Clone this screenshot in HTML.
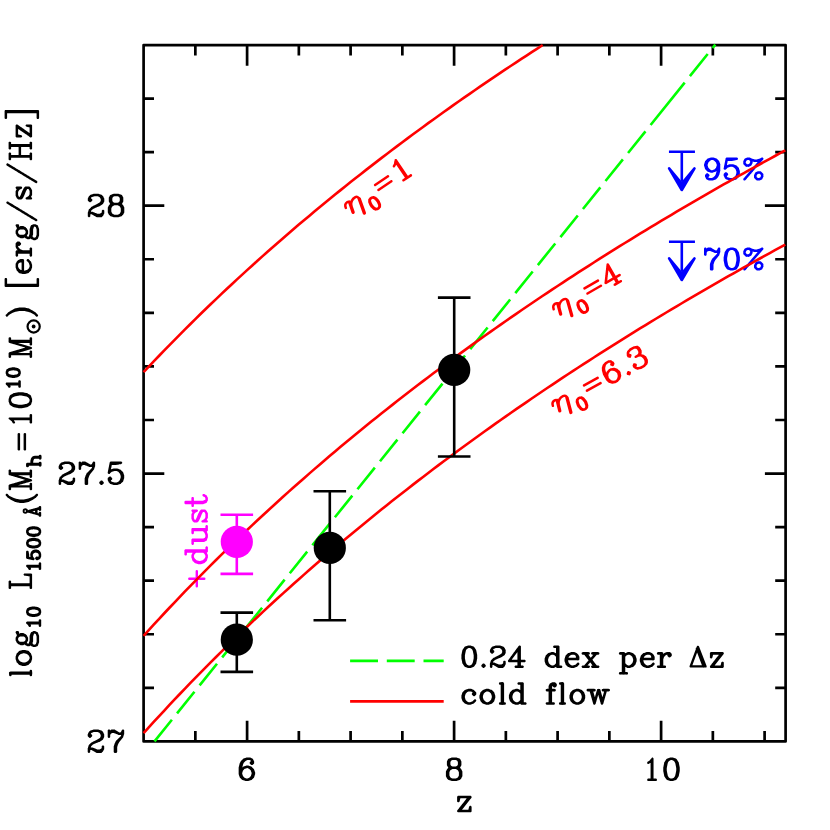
<!DOCTYPE html>
<html><head><meta charset="utf-8"><title>plot</title><style>html,body{margin:0;padding:0;background:#fff;font-family:"Liberation Sans",sans-serif}svg{display:block}</style></head><body>
<svg width="830" height="830" viewBox="0 0 830 830">
<rect width="830" height="830" fill="#fff"/>
<g stroke="#000" stroke-width="2.7" fill="none" stroke-linecap="butt">
<rect x="143.6" y="45.1" width="642" height="696.3" stroke-linejoin="round"/>
<path d="M195.35,741.4v-10.4M195.35,45.1v10.4M247.1,741.4v-20.7M247.1,45.1v20.7M298.85,741.4v-10.4M298.85,45.1v10.4M350.6,741.4v-10.4M350.6,45.1v10.4M402.35,741.4v-10.4M402.35,45.1v10.4M454.1,741.4v-20.7M454.1,45.1v20.7M505.85,741.4v-10.4M505.85,45.1v10.4M557.6,741.4v-10.4M557.6,45.1v10.4M609.35,741.4v-10.4M609.35,45.1v10.4M661.1,741.4v-20.7M661.1,45.1v20.7M712.85,741.4v-10.4M712.85,45.1v10.4M764.6,741.4v-10.4M764.6,45.1v10.4M143.6,687.83h10.4M785.6,687.83h-10.4M143.6,634.26h10.4M785.6,634.26h-10.4M143.6,580.69h10.4M785.6,580.69h-10.4M143.6,527.12h10.4M785.6,527.12h-10.4M143.6,473.55h20.7M785.6,473.55h-20.7M143.6,419.98h10.4M785.6,419.98h-10.4M143.6,366.41h10.4M785.6,366.41h-10.4M143.6,312.84h10.4M785.6,312.84h-10.4M143.6,259.27h10.4M785.6,259.27h-10.4M143.6,205.7h20.7M785.6,205.7h-20.7M143.6,152.13h10.4M785.6,152.13h-10.4M143.6,98.56h10.4M785.6,98.56h-10.4"/>
</g>
<path transform="translate(86.05,216)" fill="#000" fill-rule="evenodd" d="M4.62,-21.25 4,-20.88 3.88,-20.62 3,-19.88 1.75,-17.38 1.75,-15.62 2,-15.12 3.38,-13.88 3.62,-13.75 4.38,-13.75 4.62,-13.88 6,-15.12 6.25,-15.62 6.25,-16.38 6,-16.88 5.62,-17.12 4.88,-18 5.12,-18.38 5.88,-19 6.12,-19 7.75,-19.62 8.12,-19.62 8.25,-19.75 11.62,-19.75 13.38,-18.88 14.12,-18 14.62,-17 14.62,-16.75 14.75,-16.62 14.75,-15.38 14.12,-14 13.88,-13.75 11,-11.88 8,-10.38 7.75,-10.38 5.75,-9.25 5.5,-9.25 5,-8.88 4.88,-8.62 3.38,-7.12 3,-6.88 2.75,-6.38 2,-3.88 1.75,-3.5 1.75,0.38 1.88,0.62 2.62,1.25 3.38,1.25 3.62,1.12 4.25,0.38 4.25,-1.38 4.62,-1.75 5.62,-1.75 6.75,-1 7.12,-0.88 7.38,-0.62 7.75,-0.5 8,-0.25 8.38,-0.12 8.62,0.12 9,0.25 9.25,0.5 9.62,0.62 10.25,1.12 10.5,1.12 10.62,1.25 15.38,1.25 16,0.88 16.12,0.62 17,-0.12 17.88,-2 18.25,-2.5 18.25,-5.38 17.62,-6.12 17.38,-6.25 16.62,-6.25 16.38,-6.12 15.75,-5.38 15.75,-3.62 15.62,-3.38 15,-2.88 13.62,-2.25 11.25,-2.25 9.88,-2.88 9.62,-2.88 9.25,-3.12 9,-3.12 8.62,-3.38 8.38,-3.38 8,-3.62 7.75,-3.62 7.38,-3.88 7.12,-3.88 6.5,-4.25 5,-4.25 4.88,-4.38 4.88,-4.75 5.25,-5.5 7,-7.12 9.12,-8.12 9.38,-8.12 9.75,-8.38 10,-8.38 10.38,-8.62 10.62,-8.62 11,-8.88 11.25,-8.88 12.88,-9.62 13.5,-9.75 16.5,-11.75 17.25,-12.5 17.25,-12.75 18.25,-14.62 18.25,-17.38 18.12,-17.5 18.12,-17.75 17.88,-18 17,-19.88 16.62,-20.12 16,-20.88 15.38,-21.25 12.88,-22 12.5,-22.25 7.5,-22.25 7.12,-22ZM28,-22.38 27.88,-22.25 27.5,-22.25 27.12,-22 26.88,-22 26.75,-21.88 26.5,-21.88 26.38,-21.75 24.38,-21.12 23.75,-20.5 23.75,-20.25 23.12,-19 22.88,-18.75 22.88,-18.5 22.75,-18.38 22.75,-14.62 23.75,-12.75 23.75,-12.5 24.25,-12 23,-10.88 21.75,-8.38 21.75,-3.62 23,-1.12 23.38,-0.88 24,-0.12 24.62,0.25 27.12,1 27.5,1.25 32.5,1.25 32.88,1 35.38,0.25 36,-0.12 36.12,-0.38 36.62,-0.88 36.75,-0.88 37.25,-1.5 37.25,-1.75 38.25,-3.62 38.25,-8.38 37,-10.88 35.75,-12 36.25,-12.5 36.25,-12.75 37.25,-14.62 37.25,-18.38 36.25,-20.25 36.25,-20.5 35.38,-21.25 32.88,-22 32.5,-22.25 28.12,-22.25ZM27,-10.12 28.38,-10.75 31.62,-10.75 33,-10.12 33.88,-9.38 34.75,-7.62 34.75,-4.38 34.12,-3 33.38,-2.12 31.62,-1.25 28.38,-1.25 27,-1.88 26.12,-2.62 25.25,-4.38 25.25,-7.62 25.88,-9 26.25,-9.5ZM26.75,-18.75 27.25,-19.25 28.38,-19.75 31.62,-19.75 32.75,-19.25 33.25,-18.75 33.75,-17.62 33.75,-15.38 33.25,-14.25 32.75,-13.75 31.62,-13.25 28.38,-13.25 27.25,-13.75 26.75,-14.25 26.25,-15.38 26.25,-17.62Z"/>
<path transform="translate(56.9,483.75)" fill="#000" fill-rule="evenodd" d="M22.62,-22.25 22.38,-22.12 21.75,-21.38 21.75,-14.62 21.88,-14.38 22.62,-13.75 23.38,-13.75 24.12,-14.38 24.25,-14.62 24.25,-16.62 24.75,-17.75 25.25,-18.25 26.38,-18.75 27.75,-18.75 29.12,-18.12 29.38,-18.12 29.75,-17.88 30,-17.88 30.38,-17.62 30.62,-17.62 31,-17.38 31.25,-17.38 31.62,-17.12 31.88,-17.12 32.5,-16.75 35.12,-16.75 35.25,-16.62 35.12,-16.5 35,-15.88 34.75,-15.5 30.38,-11.12 30,-10.88 29.12,-9 28.88,-8.75 28,-5.88 27.75,-5.5 27.75,0.38 27.88,0.62 28.62,1.25 29.38,1.25 29.5,1.12 29.62,1.25 30.38,1.25 30.62,1.12 31.25,0.38 31.25,-4.75 31.38,-4.88 31.38,-5.25 31.5,-5.38 32,-7.12 32.25,-7.5 32.25,-7.75 33.38,-9.75 37.25,-14.5 37.38,-15.25 37.5,-15.38 38,-17.12 38.25,-17.5 38.25,-21.38 37.62,-22.12 37.38,-22.25 36.62,-22.25 35.75,-21.5 35.75,-21.25 35.12,-20 34.62,-19.38 34.38,-19.25 33.38,-19.25 32.25,-20 31.88,-20.12 31.62,-20.38 31.25,-20.5 31,-20.75 30.62,-20.88 30.38,-21.12 30,-21.25 29.75,-21.5 29.38,-21.62 28.75,-22.12 28.5,-22.12 28.38,-22.25 25.62,-22.25 25,-21.88 24.38,-21.12 24.12,-21.62 23.62,-22.12 23.38,-22.25ZM4.62,-21.25 4,-20.88 3.88,-20.62 3,-19.88 1.75,-17.38 1.75,-15.62 2,-15.12 3.38,-13.88 3.62,-13.75 4.38,-13.75 4.62,-13.88 6,-15.12 6.25,-15.62 6.25,-16.38 6,-16.88 5.62,-17.12 4.88,-18 5.12,-18.38 5.88,-19 6.12,-19 7.75,-19.62 8.12,-19.62 8.25,-19.75 11.62,-19.75 13.38,-18.88 14.12,-18 14.62,-17 14.62,-16.75 14.75,-16.62 14.75,-15.38 14.12,-14 13.88,-13.75 11,-11.88 8,-10.38 7.75,-10.38 5.75,-9.25 5.5,-9.25 5,-8.88 4.88,-8.62 3.38,-7.12 3,-6.88 2.75,-6.38 2,-3.88 1.75,-3.5 1.75,0.38 1.88,0.62 2.62,1.25 3.38,1.25 3.62,1.12 4.25,0.38 4.25,-1.38 4.62,-1.75 5.62,-1.75 6.75,-1 7.12,-0.88 7.38,-0.62 7.75,-0.5 8,-0.25 8.38,-0.12 8.62,0.12 9,0.25 9.25,0.5 9.62,0.62 10.25,1.12 10.5,1.12 10.62,1.25 15.38,1.25 16,0.88 16.12,0.62 17,-0.12 17.88,-2 18.25,-2.5 18.25,-5.38 17.62,-6.12 17.38,-6.25 16.62,-6.25 16.38,-6.12 15.75,-5.38 15.75,-3.62 15.62,-3.38 15,-2.88 13.62,-2.25 11.25,-2.25 9.88,-2.88 9.62,-2.88 9.25,-3.12 9,-3.12 8.62,-3.38 8.38,-3.38 8,-3.62 7.75,-3.62 7.38,-3.88 7.12,-3.88 6.5,-4.25 5,-4.25 4.88,-4.38 4.88,-4.75 5.25,-5.5 7,-7.12 9.12,-8.12 9.38,-8.12 9.75,-8.38 10,-8.38 10.38,-8.62 10.62,-8.62 11,-8.88 11.25,-8.88 12.88,-9.62 13.5,-9.75 16.5,-11.75 17.25,-12.5 17.25,-12.75 18.25,-14.62 18.25,-17.38 18.12,-17.5 18.12,-17.75 17.88,-18 17,-19.88 16.62,-20.12 16,-20.88 15.38,-21.25 12.88,-22 12.5,-22.25 7.5,-22.25 7.12,-22Z"/>
<path transform="translate(96.5,483.75)" fill="#000" fill-rule="evenodd" d="M4.62,-3.25 4,-2.88 3.88,-2.62 3,-1.88 2.75,-1.38 2.75,-0.62 3,-0.12 3.38,0.12 4,0.88 4.62,1.25 5.38,1.25 6,0.88 6.12,0.62 7,-0.12 7.25,-0.62 7.25,-1.38 7,-1.88 6.62,-2.12 6,-2.88 5.38,-3.25Z"/>
<path transform="translate(105.95,483.75)" fill="#000" fill-rule="evenodd" d="M4.62,-22.25 3.88,-21.62 3.62,-21 3.62,-20.38 3.5,-20.25 3.5,-19.75 3.38,-19.62 3.38,-19.12 3.25,-19 3.25,-18.5 3.12,-18.38 3.12,-17.88 3,-17.75 3,-17.25 2.88,-17.12 2.88,-16.62 2.75,-16.5 2.75,-16 2.62,-15.88 2.62,-15.38 2.5,-15.25 2.5,-14.75 2.38,-14.62 2.38,-14.12 2.25,-14 2.25,-13.5 2.12,-13.38 2.12,-12.88 2,-12.75 2,-12.25 1.88,-12.12 1.88,-11.62 1.75,-11.5 1.75,-10.62 1.88,-10.38 2.62,-9.75 3.38,-9.75 4,-10.12 4.12,-10.38 5.88,-12 6.12,-12 7.75,-12.62 8.12,-12.62 8.25,-12.75 10.62,-12.75 12.38,-11.88 14,-10.12 14,-9.88 14.62,-8.25 14.62,-7.88 14.75,-7.75 14.75,-6.25 14.62,-6.12 14.62,-5.75 14.5,-5.62 14,-3.88 13.75,-3.5 12.38,-2.12 10.62,-1.25 8.25,-1.25 8.12,-1.38 7.75,-1.38 7.62,-1.5 5.88,-2 5.5,-2.25 4.88,-3 5.12,-3.38 6,-4.12 6.25,-4.62 6.25,-5.38 6,-5.88 5.62,-6.12 5,-6.88 4.38,-7.25 3.62,-7.25 3.38,-7.12 2,-5.88 1.75,-5.38 1.75,-3.62 1.88,-3.5 1.88,-3.25 2.12,-3 3,-1.12 3.38,-0.88 4,-0.12 4.62,0.25 7.12,1 7.5,1.25 11.5,1.25 11.88,1 14.38,0.25 15,-0.12 15.12,-0.38 17,-2.12 17.25,-2.62 18,-5.12 18.25,-5.5 18.25,-8.5 18,-8.88 18,-9.12 17,-11.88 16.62,-12.12 15.12,-13.62 15.12,-13.75 14.62,-14.12 12.62,-14.75 12.5,-14.88 12.25,-14.88 12.12,-15 11.88,-15 11.5,-15.25 7.5,-15.25 7.12,-15 6.88,-15 5.25,-14.38 5,-14.5 5,-14.75 5.12,-14.88 5.12,-15.38 5.25,-15.5 5.25,-16 5.38,-16.12 5.38,-16.62 5.5,-16.75 5.75,-18.5 6,-18.75 10.5,-18.75 10.62,-18.88 11.12,-18.88 11.25,-19 11.75,-19 11.88,-19.12 12.38,-19.12 12.5,-19.25 13,-19.25 13.12,-19.38 13.62,-19.38 13.75,-19.5 14.25,-19.5 14.38,-19.62 15,-19.62 15.62,-19.88 16.12,-20.38 16.25,-20.62 16.25,-21.38 16.12,-21.62 15.38,-22.25Z"/>
<path transform="translate(85.95,751.65)" fill="#000" fill-rule="evenodd" d="M22.62,-22.25 22.38,-22.12 21.75,-21.38 21.75,-14.62 21.88,-14.38 22.62,-13.75 23.38,-13.75 24.12,-14.38 24.25,-14.62 24.25,-16.62 24.75,-17.75 25.25,-18.25 26.38,-18.75 27.75,-18.75 29.12,-18.12 29.38,-18.12 29.75,-17.88 30,-17.88 30.38,-17.62 30.62,-17.62 31,-17.38 31.25,-17.38 31.62,-17.12 31.88,-17.12 32.5,-16.75 35.12,-16.75 35.25,-16.62 35.12,-16.5 35,-15.88 34.75,-15.5 30.38,-11.12 30,-10.88 29.12,-9 28.88,-8.75 28,-5.88 27.75,-5.5 27.75,0.38 27.88,0.62 28.62,1.25 29.38,1.25 29.5,1.12 29.62,1.25 30.38,1.25 30.62,1.12 31.25,0.38 31.25,-4.75 31.38,-4.88 31.38,-5.25 31.5,-5.38 32,-7.12 32.25,-7.5 32.25,-7.75 33.38,-9.75 37.25,-14.5 37.38,-15.25 37.5,-15.38 38,-17.12 38.25,-17.5 38.25,-21.38 37.62,-22.12 37.38,-22.25 36.62,-22.25 35.75,-21.5 35.75,-21.25 35.12,-20 34.62,-19.38 34.38,-19.25 33.38,-19.25 32.25,-20 31.88,-20.12 31.62,-20.38 31.25,-20.5 31,-20.75 30.62,-20.88 30.38,-21.12 30,-21.25 29.75,-21.5 29.38,-21.62 28.75,-22.12 28.5,-22.12 28.38,-22.25 25.62,-22.25 25,-21.88 24.38,-21.12 24.12,-21.62 23.62,-22.12 23.38,-22.25ZM4.62,-21.25 4,-20.88 3.88,-20.62 3,-19.88 1.75,-17.38 1.75,-15.62 2,-15.12 3.38,-13.88 3.62,-13.75 4.38,-13.75 4.62,-13.88 6,-15.12 6.25,-15.62 6.25,-16.38 6,-16.88 5.62,-17.12 4.88,-18 5.12,-18.38 5.88,-19 6.12,-19 7.75,-19.62 8.12,-19.62 8.25,-19.75 11.62,-19.75 13.38,-18.88 14.12,-18 14.62,-17 14.62,-16.75 14.75,-16.62 14.75,-15.38 14.12,-14 13.88,-13.75 11,-11.88 8,-10.38 7.75,-10.38 5.75,-9.25 5.5,-9.25 5,-8.88 4.88,-8.62 3.38,-7.12 3,-6.88 2.75,-6.38 2,-3.88 1.75,-3.5 1.75,0.38 1.88,0.62 2.62,1.25 3.38,1.25 3.62,1.12 4.25,0.38 4.25,-1.38 4.62,-1.75 5.62,-1.75 6.75,-1 7.12,-0.88 7.38,-0.62 7.75,-0.5 8,-0.25 8.38,-0.12 8.62,0.12 9,0.25 9.25,0.5 9.62,0.62 10.25,1.12 10.5,1.12 10.62,1.25 15.38,1.25 16,0.88 16.12,0.62 17,-0.12 17.88,-2 18.25,-2.5 18.25,-5.38 17.62,-6.12 17.38,-6.25 16.62,-6.25 16.38,-6.12 15.75,-5.38 15.75,-3.62 15.62,-3.38 15,-2.88 13.62,-2.25 11.25,-2.25 9.88,-2.88 9.62,-2.88 9.25,-3.12 9,-3.12 8.62,-3.38 8.38,-3.38 8,-3.62 7.75,-3.62 7.38,-3.88 7.12,-3.88 6.5,-4.25 5,-4.25 4.88,-4.38 4.88,-4.75 5.25,-5.5 7,-7.12 9.12,-8.12 9.38,-8.12 9.75,-8.38 10,-8.38 10.38,-8.62 10.62,-8.62 11,-8.88 11.25,-8.88 12.88,-9.62 13.5,-9.75 16.5,-11.75 17.25,-12.5 17.25,-12.75 18.25,-14.62 18.25,-17.38 18.12,-17.5 18.12,-17.75 17.88,-18 17,-19.88 16.62,-20.12 16,-20.88 15.38,-21.25 12.88,-22 12.5,-22.25 7.5,-22.25 7.12,-22Z"/>
<path transform="translate(236.9,779.8)" fill="#000" fill-rule="evenodd" d="M9.5,-22.25 9.12,-22 6.62,-21.25 6,-20.88 5.88,-20.62 4,-18.88 3.12,-17 2.88,-16.75 2.88,-16.5 2.62,-16 2.62,-15.62 2.5,-15.5 2.5,-15.12 2.38,-15 2.38,-14.62 2.25,-14.5 2.25,-14.12 2.12,-14 2.12,-13.62 2,-13.5 2,-13.12 1.88,-13 1.88,-12.62 1.75,-12.5 1.75,-5.5 2,-5.12 2,-4.88 3,-2.12 3.38,-1.88 4.88,-0.38 5,-0.12 5.62,0.25 8.12,1 8.5,1.25 11.5,1.25 11.88,1 12.12,1 12.25,0.88 12.5,0.88 12.62,0.75 14.62,0.12 15,-0.12 15.12,-0.38 17,-2.12 17.25,-2.62 18,-5.12 18.25,-5.5 18.25,-7.5 18,-7.88 18,-8.12 17,-10.88 16.62,-11.12 15.12,-12.62 15,-12.88 14.38,-13.25 11.88,-14 11.5,-14.25 9.5,-14.25 9.12,-14 6.62,-13.25 6,-12.88 5.62,-12.38 5.5,-12.5 5.5,-12.88 5.62,-13 5.62,-13.38 5.75,-13.5 6.12,-15.38 6.88,-17 8.62,-18.88 10,-19.62 10.25,-19.62 10.38,-19.75 12.62,-19.75 13.75,-19.25 14,-19 13.88,-18.62 13,-17.88 12.75,-17.38 12.75,-16.62 13,-16.12 13.38,-15.88 14,-15.12 14.62,-14.75 15.38,-14.75 16,-15.12 16.12,-15.38 17,-16.12 17.25,-16.62 17.25,-18.38 17.12,-18.5 17.12,-18.75 16.88,-19 16.25,-20.25 16.25,-20.5 15.5,-21.25 15.25,-21.25 13.38,-22.25ZM10.62,-11.75 12.38,-10.88 13.75,-9.5 14,-9.12 14,-8.88 14.62,-7.25 14.75,-6.25 14.62,-6.12 14.62,-5.75 14.5,-5.62 14,-3.88 12.38,-2.12 10.62,-1.25 9.38,-1.25 7.62,-2.12 6.25,-3.5 6,-3.88 6,-4.12 5.38,-5.75 5.25,-6.75 5.38,-6.88 5.38,-7.25 5.5,-7.38 6,-9.12 7.5,-10.75 7.88,-11 8.12,-11 9.75,-11.62Z"/>
<path transform="translate(444.15,779.8)" fill="#000" fill-rule="evenodd" d="M8,-22.38 7.88,-22.25 7.5,-22.25 7.12,-22 6.88,-22 6.75,-21.88 6.5,-21.88 6.38,-21.75 4.38,-21.12 3.75,-20.5 3.75,-20.25 3.12,-19 2.88,-18.75 2.88,-18.5 2.75,-18.38 2.75,-14.62 3.75,-12.75 3.75,-12.5 4.25,-12 3,-10.88 1.75,-8.38 1.75,-3.62 3,-1.12 3.38,-0.88 4,-0.12 4.62,0.25 7.12,1 7.5,1.25 12.5,1.25 12.88,1 15.38,0.25 16,-0.12 16.12,-0.38 16.62,-0.88 16.75,-0.88 17.25,-1.5 17.25,-1.75 18.25,-3.62 18.25,-8.38 17,-10.88 15.75,-12 16.25,-12.5 16.25,-12.75 17.25,-14.62 17.25,-18.38 16.25,-20.25 16.25,-20.5 15.38,-21.25 12.88,-22 12.5,-22.25 8.12,-22.25ZM7,-10.12 8.38,-10.75 11.62,-10.75 13,-10.12 13.88,-9.38 14.75,-7.62 14.75,-4.38 14.12,-3 13.38,-2.12 11.62,-1.25 8.38,-1.25 7,-1.88 6.12,-2.62 5.25,-4.38 5.25,-7.62 5.88,-9 6.25,-9.5ZM6.75,-18.75 7.25,-19.25 8.38,-19.75 11.62,-19.75 12.75,-19.25 13.25,-18.75 13.75,-17.62 13.75,-15.38 13.25,-14.25 12.75,-13.75 11.62,-13.25 8.38,-13.25 7.25,-13.75 6.75,-14.25 6.25,-15.38 6.25,-17.62Z"/>
<path transform="translate(643.13,779.8) scale(0.85,1)" fill="#000" fill-rule="evenodd" d="M11.38,-22.25 10.62,-22.25 10,-21.88 9.88,-21.62 9.38,-21.12 9.25,-21.12 7.38,-19.12 5.75,-18.25 5.5,-18.25 4.75,-17.38 4.75,-16.62 4.88,-16.38 5.62,-15.75 6.38,-15.75 8.25,-16.75 8.5,-16.75 8.62,-16.88 8.75,-16.75 8.75,-1.38 8.62,-1.25 5.62,-1.25 5.38,-1.12 4.75,-0.38 4.75,0.38 4.88,0.62 5.62,1.25 15.38,1.25 15.62,1.12 16.25,0.38 16.25,-0.38 16.12,-0.62 15.38,-1.25 12.38,-1.25 12.25,-1.38 12.25,-21.38 12.12,-21.62Z"/>
<path transform="translate(661.5,779.8)" fill="#000" fill-rule="evenodd" d="M9,-22.38 8.88,-22.25 8.5,-22.25 8.12,-22 7.88,-22 7.75,-21.88 7.5,-21.88 7.38,-21.75 5.38,-21.12 4.75,-20.5 3.25,-18.12 2.88,-17.75 2.88,-17.5 2.62,-17 2.62,-16.38 2.5,-16.25 2.5,-15.75 2.38,-15.62 2.38,-15.12 2.25,-15 2.25,-14.5 2.12,-14.38 1.88,-12.62 1.75,-12.5 1.75,-8.5 1.88,-8.38 1.88,-7.88 2,-7.75 2,-7.25 2.12,-7.12 2.12,-6.62 2.25,-6.5 2.25,-6 2.38,-5.88 2.38,-5.38 2.5,-5.25 2.5,-4.75 2.62,-4.62 2.62,-4 2.75,-3.88 2.88,-3.25 3.25,-2.88 4.75,-0.5 5.62,0.25 8.12,1 8.5,1.25 11.5,1.25 11.88,1 12.12,1 12.25,0.88 12.5,0.88 12.62,0.75 14.62,0.12 15.25,-0.5 16.75,-2.88 17.12,-3.25 17.12,-3.5 17.38,-4 17.38,-4.62 17.5,-4.75 17.5,-5.25 17.62,-5.38 17.62,-5.88 17.75,-6 17.75,-6.5 17.88,-6.62 18.12,-8.38 18.25,-8.5 18.25,-12.5 18.12,-12.62 18.12,-13.12 18,-13.25 18,-13.75 17.88,-13.88 17.88,-14.38 17.75,-14.5 17.75,-15 17.62,-15.12 17.62,-15.62 17.5,-15.75 17.5,-16.25 17.38,-16.38 17.38,-17 17.25,-17.12 17.12,-17.75 16.75,-18.12 15.25,-20.5 14.38,-21.25 11.88,-22 11.5,-22.25 9.12,-22.25ZM9.38,-19.75 10.62,-19.75 10.75,-19.62 11,-19.62 12,-19.12 12.88,-18.38 13.88,-16.38 13.88,-15.88 14,-15.75 14,-15.25 14.12,-15.12 14.12,-14.62 14.25,-14.5 14.25,-14 14.38,-13.88 14.38,-13.38 14.5,-13.25 14.5,-12.75 14.62,-12.62 14.62,-12 14.75,-11.88 14.75,-9.12 14.62,-9 14.62,-8.38 14.5,-8.25 14.5,-7.75 14.38,-7.62 14.38,-7.12 14.25,-7 14.25,-6.5 14.12,-6.38 14.12,-5.88 14,-5.75 14,-5.25 13.88,-5.12 13.75,-4.25 13.12,-3 12.38,-2.12 10.62,-1.25 9.38,-1.25 9.25,-1.38 9,-1.38 8,-1.88 7.12,-2.62 6.12,-4.62 6.12,-5.12 6,-5.25 6,-5.75 5.88,-5.88 5.88,-6.38 5.75,-6.5 5.75,-7 5.62,-7.12 5.62,-7.62 5.5,-7.75 5.5,-8.25 5.38,-8.38 5.38,-9 5.25,-9.12 5.25,-11.88 5.38,-12 5.38,-12.62 5.5,-12.75 5.5,-13.25 5.62,-13.38 5.62,-13.88 5.75,-14 5.75,-14.5 5.88,-14.62 5.88,-15.12 6,-15.25 6,-15.75 6.12,-15.88 6.25,-16.75 6.88,-18 7.62,-18.88Z"/>
<path transform="translate(455.35,811.1)" fill="#000" fill-rule="evenodd" d="M2.38,-15.12 1.75,-14.38 1.75,-9.62 1.88,-9.38 2.62,-8.75 3.38,-8.75 4.12,-9.38 4.38,-10 4.38,-10.38 4.5,-10.5 4.88,-12.38 5.12,-12.75 11.12,-12.75 11.25,-12.5 10.75,-12 10.38,-11.38 9.88,-10.88 7.62,-7.88 6.62,-6.75 6.25,-6.12 5.25,-5 4.88,-4.38 3.88,-3.25 3.5,-2.62 2,-0.88 1.75,-0.38 1.75,0.38 1.88,0.62 2.62,1.25 15.38,1.25 15.62,1.12 16.25,0.38 16.25,-4.38 16.12,-4.62 15.38,-5.25 14.62,-5.25 13.88,-4.62 13.62,-4 13.62,-3.62 13.5,-3.5 13.12,-1.62 12.88,-1.25 6.88,-1.25 6.75,-1.5 7.25,-2 7.62,-2.62 8.12,-3.12 10.38,-6.12 11.38,-7.25 11.75,-7.88 12.75,-9 13.12,-9.62 14.12,-10.75 14.5,-11.38 16,-13.12 16.25,-13.62 16.25,-14.38 16.12,-14.62 15.38,-15.25 2.62,-15.25Z"/>
<path transform="translate(30.85,667.6) rotate(-90) scale(0.97,1)" fill="#000" fill-rule="evenodd" d="M9,-15.38 8.88,-15.25 8.5,-15.25 8.12,-15 7.88,-15 7.75,-14.88 7.5,-14.88 7.38,-14.75 5.38,-14.12 5,-13.88 4.88,-13.62 3,-11.88 2.75,-11.38 2,-8.88 1.75,-8.5 1.75,-5.5 2,-5.12 2,-4.88 3,-2.12 3.38,-1.88 4.88,-0.38 5,-0.12 5.62,0.25 8.12,1 8.5,1.25 11.5,1.25 11.88,1 12.12,1 12.25,0.88 12.5,0.88 12.62,0.75 14.62,0.12 15,-0.12 15.12,-0.38 17,-2.12 17.25,-2.62 18,-5.12 18.25,-5.5 18.25,-8.5 18,-8.88 18,-9.12 17,-11.88 16.62,-12.12 15.12,-13.62 15,-13.88 14.38,-14.25 11.88,-15 11.5,-15.25 9.12,-15.25ZM9.38,-12.75 10.62,-12.75 12.38,-11.88 14,-10.12 14,-9.88 14.62,-8.25 14.62,-7.88 14.75,-7.75 14.75,-6.25 14.62,-6.12 14.62,-5.75 14.5,-5.62 14,-3.88 12.38,-2.12 10.62,-1.25 9.38,-1.25 7.62,-2.12 6,-3.88 6,-4.12 5.38,-5.75 5.38,-6.12 5.25,-6.25 5.25,-7.75 5.38,-7.88 5.38,-8.25 5.5,-8.38 6,-10.12 7.62,-11.88Z"/>
<path transform="translate(30.85,647.83) rotate(-90) scale(0.97,1)" fill="#000" fill-rule="evenodd" d="M7.5,-15.25 7,-14.88 5.75,-14.25 5.5,-14.25 5,-13.88 4.88,-13.62 4,-12.88 3.12,-11 2.88,-10.75 2.88,-10.5 2.75,-10.38 2.75,-7.62 3.38,-6.5 3.38,-6.25 2.75,-5.5 2.75,-5.25 1.75,-3.38 1.75,-1.5 2.5,-0.25 1.75,0.5 1.75,0.75 1.12,2 0.88,2.25 0.88,2.5 0.75,2.62 0.75,4.38 1.75,6.25 1.75,6.5 2.38,7.12 4.38,7.75 4.5,7.88 4.75,7.88 4.88,8 5.12,8 5.5,8.25 12.5,8.25 12.88,8 13.12,8 13.25,7.88 13.5,7.88 13.62,7.75 15.62,7.12 16.25,6.5 16.25,6.25 16.88,5 17.12,4.75 17.12,4.5 17.25,4.38 17.25,2.5 16.88,2 16.25,0.75 16.25,0.5 15.38,-0.25 12.88,-1 12.5,-1.25 7.25,-1.25 7.12,-1.38 6.75,-1.38 6.62,-1.5 4.88,-2 4.5,-2.25 4.25,-2.62 5,-4.12 5.5,-3.75 5.75,-3.75 7.62,-2.75 10.38,-2.75 12.25,-3.75 12.5,-3.75 13,-4.12 13.12,-4.38 13.62,-4.88 13.75,-4.88 14.25,-5.5 14.25,-5.75 15.25,-7.62 15.25,-10.38 14.62,-11.62 14.75,-11.75 16.38,-11.75 17.12,-12.38 17.25,-12.62 17.25,-14.38 16.62,-15.12 16.38,-15.25 15.62,-15.25 13.75,-14.25 13.5,-14.25 13.12,-13.88 12.88,-13.88 12.5,-14.25 12.25,-14.25 10.38,-15.25ZM3.25,3.38 3.75,2.25 4,2 4.62,1.75 5.38,1.75 5.5,1.88 6.12,2 6.5,2.25 11.75,2.25 11.88,2.38 12.25,2.38 12.38,2.5 14.12,3 14.5,3.25 14.75,3.62 14.25,4.75 14,5 12.38,5.5 12.25,5.62 11.88,5.62 11.75,5.75 6.25,5.75 6.12,5.62 5.75,5.62 5.62,5.5 4,5 3.75,4.75 3.38,4ZM8.38,-12.75 9.62,-12.75 10.75,-12.25 11.25,-11.75 11.75,-10.62 11.75,-7.38 11.62,-7.25 11.62,-7 11.25,-6.25 10.75,-5.75 9.62,-5.25 8.38,-5.25 7.25,-5.75 6.75,-6.25 6.25,-7.38 6.25,-10.62 6.38,-10.75 6.38,-11 6.75,-11.75 7.25,-12.25Z"/>
<path transform="translate(39.95,629.2) rotate(-90) scale(0.97,1)" fill="#000" fill-rule="evenodd" d="M17,-13.88 16.25,-13.5 15.12,-13.25 14.62,-12.75 14.5,-12.75 14.12,-12 13.25,-10.88 13.12,-10.12 13,-10 13,-9.5 12.88,-9.38 12.88,-8.88 12.75,-8.75 12.75,-8.25 12.62,-8.12 12.62,-7.62 12.5,-7.5 12.5,-5 12.75,-4.38 12.75,-3.88 12.88,-3.75 12.88,-3.25 13,-3.12 13,-2.62 13.12,-2.5 13.25,-1.75 14.75,0.38 15.12,0.62 16.5,1 16.88,1.25 19.12,1.25 19.5,1 20.88,0.62 21.25,0.38 22.75,-1.75 22.88,-2.5 23,-2.62 23,-3.12 23.12,-3.25 23.12,-3.75 23.25,-3.88 23.25,-4.38 23.5,-5 23.5,-7.5 23.38,-7.62 23.38,-8.12 23.25,-8.25 23.25,-8.75 23.12,-8.88 23.12,-9.38 23,-9.5 23,-10 22.88,-10.12 22.75,-10.88 22.38,-11.25 21.5,-12.75 21.38,-12.75 20.88,-13.25 20.12,-13.38 19,-13.88ZM17.88,-11.38 18.5,-11.25 19,-11 19.38,-10.62 19.88,-9.5 20,-8.5 20.12,-8.38 20.12,-7.88 20.25,-7.75 20.25,-7 20.38,-6.88 20.38,-5.75 20.25,-5.62 20.25,-4.88 20.12,-4.75 19.88,-3 19.38,-2 19,-1.62 18.25,-1.25 17.75,-1.25 17,-1.62 16.62,-2 16.12,-3 16.12,-3.5 16,-3.62 16,-4.12 15.88,-4.25 15.88,-4.75 15.75,-4.88 15.75,-5.62 15.62,-5.75 15.75,-7.75 15.88,-7.88 15.88,-8.38 16,-8.5 16,-9 16.12,-9.12 16.25,-9.88 16.62,-10.62 17,-11ZM6.25,-13.88 5.62,-13.5 4.25,-12 3,-11.38 2.38,-10.62 2.38,-9.75 2.88,-9.12 3.5,-9 3.62,-8.88 3.75,-9 4.12,-9 4.5,-9.25 4.75,-9.12 4.75,-1.38 4.62,-1.25 3.25,-1.25 3,-1.12 2.38,-0.38 2.38,0.38 2.5,0.62 3.25,1.25 9.38,1.25 9.62,1.12 10.25,0.38 10.25,-0.38 10.12,-0.62 9.38,-1.25 8,-1.25 7.88,-1.38 7.88,-12.88 7.75,-13 7.75,-13.25 7.38,-13.62 6.88,-13.88Z"/>
<path transform="translate(30.85,589.67) rotate(-90) scale(0.89,1)" fill="#000" fill-rule="evenodd" d="M1.38,-22.12 0.75,-21.38 0.75,-20.62 0.88,-20.38 1.62,-19.75 3.62,-19.75 3.75,-19.62 3.75,-1.38 3.62,-1.25 1.62,-1.25 1.38,-1.12 0.75,-0.38 0.75,0.38 0.88,0.62 1.62,1.25 17.38,1.25 17.62,1.12 18.25,0.38 18.25,-6.38 18.12,-6.62 17.38,-7.25 16.62,-7.25 16.38,-7.12 15.75,-6.38 15.75,-6.12 15.62,-6 15.62,-5.25 15.5,-5.12 15.5,-4.5 15.38,-4.38 15.38,-3.75 15.25,-3.62 15.25,-3 15.12,-2.88 15.12,-2.25 15,-2.12 15,-1.5 14.75,-1.25 7.38,-1.25 7.25,-1.38 7.25,-19.62 7.38,-19.75 9.38,-19.75 9.62,-19.88 10.25,-20.62 10.25,-21.38 10.12,-21.62 9.38,-22.25 1.62,-22.25Z"/>
<path transform="translate(39.95,572.3) rotate(-90) scale(0.97,1)" fill="#000" fill-rule="evenodd" d="M41,-13.88 40.25,-13.5 39.12,-13.25 38.62,-12.75 38.5,-12.75 38.12,-12 37.25,-10.88 37.12,-10.12 37,-10 37,-9.5 36.88,-9.38 36.88,-8.88 36.75,-8.75 36.75,-8.25 36.62,-8.12 36.62,-7.62 36.5,-7.5 36.5,-5 36.75,-4.38 36.75,-3.88 36.88,-3.75 36.88,-3.25 37,-3.12 37,-2.62 37.12,-2.5 37.25,-1.75 38.75,0.38 39.12,0.62 40.5,1 40.88,1.25 43.12,1.25 43.5,1 44.88,0.62 45.25,0.38 46.75,-1.75 46.88,-2.5 47,-2.62 47,-3.12 47.12,-3.25 47.12,-3.75 47.25,-3.88 47.25,-4.38 47.5,-5 47.5,-7.5 47.38,-7.62 47.38,-8.12 47.25,-8.25 47.25,-8.75 47.12,-8.88 47.12,-9.38 47,-9.5 47,-10 46.88,-10.12 46.75,-10.88 46.38,-11.25 45.5,-12.75 45.38,-12.75 44.88,-13.25 44.12,-13.38 43,-13.88ZM41.88,-11.38 42.5,-11.25 43,-11 43.38,-10.62 43.88,-9.5 44,-8.5 44.12,-8.38 44.12,-7.88 44.25,-7.75 44.25,-7 44.38,-6.88 44.38,-5.75 44.25,-5.62 44.25,-4.88 44.12,-4.75 43.88,-3 43.38,-2 43,-1.62 42.25,-1.25 41.75,-1.25 41,-1.62 40.62,-2 40.12,-3 40.12,-3.5 40,-3.62 40,-4.12 39.88,-4.25 39.88,-4.75 39.75,-4.88 39.75,-5.62 39.62,-5.75 39.75,-7.75 39.88,-7.88 39.88,-8.38 40,-8.5 40,-9 40.12,-9.12 40.25,-9.88 40.62,-10.62 41,-11ZM29,-13.88 28.25,-13.5 27.12,-13.25 26.62,-12.75 26.5,-12.75 26.12,-12 25.25,-10.88 25.12,-10.12 25,-10 25,-9.5 24.88,-9.38 24.88,-8.88 24.75,-8.75 24.75,-8.25 24.62,-8.12 24.62,-7.62 24.5,-7.5 24.5,-5 24.75,-4.38 24.75,-3.88 24.88,-3.75 24.88,-3.25 25,-3.12 25,-2.62 25.12,-2.5 25.25,-1.75 26.75,0.38 27.12,0.62 28.5,1 28.88,1.25 31.12,1.25 31.5,1 32.88,0.62 33.25,0.38 34.75,-1.75 34.88,-2.5 35,-2.62 35,-3.12 35.12,-3.25 35.12,-3.75 35.25,-3.88 35.25,-4.38 35.5,-5 35.5,-7.5 35.38,-7.62 35.38,-8.12 35.25,-8.25 35.25,-8.75 35.12,-8.88 35.12,-9.38 35,-9.5 35,-10 34.88,-10.12 34.75,-10.88 34.38,-11.25 33.5,-12.75 33.38,-12.75 32.88,-13.25 32.12,-13.38 31,-13.88ZM29.88,-11.38 30.5,-11.25 31,-11 31.38,-10.62 31.88,-9.5 32,-8.5 32.12,-8.38 32.12,-7.88 32.25,-7.75 32.25,-7 32.38,-6.88 32.38,-5.75 32.25,-5.62 32.25,-4.88 32.12,-4.75 31.88,-3 31.38,-2 31,-1.62 30.25,-1.25 29.75,-1.25 29,-1.62 28.62,-2 28.12,-3 28.12,-3.5 28,-3.62 28,-4.12 27.88,-4.25 27.88,-4.75 27.75,-4.88 27.75,-5.62 27.62,-5.75 27.75,-7.75 27.88,-7.88 27.88,-8.38 28,-8.5 28,-9 28.12,-9.12 28.25,-9.88 28.62,-10.62 29,-11ZM14.62,-13.88 13.88,-13.25 13.62,-12.62 13.62,-12 13.5,-11.88 13.5,-11.38 13.38,-11.25 13.38,-10.75 13.25,-10.62 13.25,-10.12 13.12,-10 13.12,-9.5 13,-9.38 12.75,-7.62 12.5,-7 12.5,-6.25 12.62,-6 13.12,-5.5 13.88,-5.25 14.5,-5.5 15.75,-6.75 16,-6.75 16.88,-7.12 18.38,-7.12 18.88,-6.88 20,-5.75 20,-5.5 20.25,-5 20.38,-4 20.25,-3.88 20.25,-3.5 19.88,-2.5 19,-1.62 18.25,-1.25 17,-1.25 15.75,-1.75 16.25,-2.62 16.25,-3.38 16,-3.88 15,-4.75 14.75,-4.88 14.12,-4.88 13.62,-4.62 12.75,-3.75 12.5,-3.25 12.5,-2.25 12.62,-2.12 12.62,-1.75 12.88,-1.5 13.12,-1 13.12,-0.75 13.38,-0.38 14.5,0.62 14.75,0.62 16.38,1.25 19.12,1.25 19.5,1 20.88,0.62 21.25,0.38 22.88,-1.38 22.88,-1.75 23.5,-3.38 23.5,-5.12 23.12,-5.88 22.88,-7 22.75,-7.25 21.12,-8.88 20.62,-9.12 20.38,-9.12 19.12,-9.62 18.75,-9.62 18.62,-9.75 18.25,-9.75 18.12,-9.62 17.12,-9.62 16.88,-9.75 16.75,-9.62 16.25,-9.62 15.88,-9.38 15.75,-9.5 15.75,-10.12 16,-10.75 18.5,-10.75 18.62,-10.88 19.12,-10.88 19.25,-11 19.75,-11 19.88,-11.12 20.38,-11.12 20.5,-11.25 21.12,-11.25 21.25,-11.38 21.5,-11.38 21.88,-11.62 22.25,-12.12 22.25,-13 22.12,-13.25 21.38,-13.88ZM6.25,-13.88 5.62,-13.5 4.25,-12 3,-11.38 2.38,-10.62 2.38,-9.75 2.88,-9.12 3.5,-9 3.62,-8.88 3.75,-9 4.12,-9 4.5,-9.25 4.75,-9.12 4.75,-1.38 4.62,-1.25 3.25,-1.25 3,-1.12 2.38,-0.38 2.38,0.38 2.5,0.62 3.25,1.25 9.38,1.25 9.62,1.12 10.25,0.38 10.25,-0.38 10.12,-0.62 9.38,-1.25 8,-1.25 7.88,-1.38 7.88,-12.88 7.75,-13 7.75,-13.25 7.38,-13.62 6.88,-13.88Z"/>
<path transform="translate(39.95,516.28) rotate(-90) scale(0.82,1)" fill="#000" fill-rule="evenodd" d="M5.62,-13.88 5.38,-13.75 4.75,-13 4.75,-12.75 4.62,-12.62 4.62,-12.38 4.5,-12.25 4.5,-12 4.38,-11.88 4.38,-11.62 4.25,-11.5 4.25,-11.25 4.12,-11.12 4.12,-10.88 4,-10.75 4,-10.5 3.88,-10.38 3.88,-10.12 3.75,-10 3.75,-9.75 3.62,-9.62 3.62,-9.38 3.5,-9.25 3.5,-9 3.38,-8.88 3.38,-8.62 3.25,-8.5 3.25,-8.25 3.12,-8.12 3.12,-7.88 3,-7.75 3,-7.5 2.88,-7.38 2.88,-7.12 2.75,-7 2.75,-6.75 2.62,-6.62 2.62,-6.38 2.5,-6.25 2.5,-6 2.38,-5.88 1,-1.5 0.75,-1.25 0.25,-1.25 0,-1.12 -0.5,-0.62 -0.62,-0.38 -0.62,0.38 -0.5,0.62 0.25,1.25 4.62,1.25 5.25,0.75 5.5,0.25 5.5,-0.25 5.25,-0.75 4.62,-1.25 3.75,-1.25 3.62,-1.38 3.75,-2 4.12,-2.38 7.38,-2.38 7.62,-2 7.75,-1.38 7,-1 6.5,-0.25 6.5,0.25 7,1 7.38,1.25 11.75,1.25 12.5,0.62 12.62,0.38 12.62,-0.38 12,-1.12 11.75,-1.25 11.25,-1.25 11,-1.5 11,-1.75 10.88,-1.88 10.88,-2.12 10.75,-2.25 10.75,-2.5 10.62,-2.62 10.62,-2.88 10.5,-3 10.5,-3.25 10.38,-3.38 10.38,-3.62 10.25,-3.75 10.25,-4 10.12,-4.12 10.12,-4.38 10,-4.5 10,-4.75 9.88,-4.88 9.88,-5.12 9.75,-5.25 9.75,-5.5 9.62,-5.62 9.62,-5.88 9.5,-6 9.5,-6.25 9.38,-6.38 9.38,-6.62 9.25,-6.75 9.25,-7 9.12,-7.12 9.12,-7.38 9,-7.5 9,-7.75 8.88,-7.88 8.88,-8.12 8.75,-8.25 8.75,-8.5 8.62,-8.62 8.62,-8.88 8.5,-9 8.5,-9.25 8.38,-9.38 8.38,-9.62 8.25,-9.75 8.25,-10 8.12,-10.12 8.12,-10.38 8,-10.5 8,-10.75 7.88,-10.88 7.88,-11.12 7.75,-11.25 7.12,-13.25 6.38,-13.88ZM5.62,-7.38 5.88,-7.25 5.88,-7 6.62,-5 6.5,-4.88 5,-4.88 4.88,-5 4.88,-5.38Z"/>
<path transform="translate(30.31,505.57) rotate(-90) scale(0.97,0.94)" fill="#000" fill-rule="evenodd" d="M10.62,-26.25 10,-25.88 9.88,-25.62 7.88,-23.75 7.75,-23.38 6.25,-21.12 5.88,-20.75 5.75,-20.25 4.12,-17 3.88,-16.75 3.88,-16.5 3.62,-16 3.62,-15.38 3.5,-15.25 3.5,-14.75 3.38,-14.62 3.38,-14.12 3.25,-14 3.25,-13.5 3.12,-13.38 2.88,-11.62 2.75,-11.5 2.75,-6.5 2.88,-6.38 2.88,-5.88 3,-5.75 3,-5.25 3.12,-5.12 3.12,-4.62 3.25,-4.5 3.25,-4 3.38,-3.88 3.38,-3.38 3.5,-3.25 3.5,-2.75 3.62,-2.62 3.62,-2 3.75,-1.88 3.88,-1.25 4.12,-1 5.75,2.25 5.88,2.75 6.25,3.12 7.75,5.38 7.88,5.75 8.38,6.12 9.88,7.62 10,7.88 10.62,8.25 11.38,8.25 12.12,7.62 12.25,7.38 12.25,6.62 12,6.12 11.62,5.88 9.88,4 8.25,0.75 8.25,0.5 8,0.12 8,-0.12 7.25,-2.12 7.12,-3.12 7,-3.25 7,-3.75 6.88,-3.88 6.88,-4.38 6.75,-4.5 6.75,-5 6.62,-5.12 6.62,-5.62 6.5,-5.75 6.5,-6.25 6.38,-6.38 6.38,-7 6.25,-7.12 6.25,-10.88 6.38,-11 6.38,-11.62 6.5,-11.75 6.5,-12.25 6.62,-12.38 6.62,-12.88 6.75,-13 6.75,-13.5 6.88,-13.62 7.12,-15.38 7.25,-15.5 7.25,-15.88 7.38,-16 8,-18.12 9.88,-22 10.25,-22.5 12,-24.12 12.25,-24.62 12.25,-25.38 12.12,-25.62 11.38,-26.25Z"/>
<path transform="translate(30.85,490.86) rotate(-90) scale(0.88,1)" fill="#000" fill-rule="evenodd" d="M23.62,-22.12 23.38,-22.25 19.12,-22.25 19,-22.38 18.88,-22.25 18.5,-22.25 17.88,-21.75 17.62,-21.12 17.62,-20.75 17.5,-20.62 17.5,-20.38 17.38,-20.25 17.38,-20 17.25,-19.88 17.25,-19.62 17.12,-19.5 17.12,-19.25 17,-19.12 17,-18.88 16.88,-18.75 16.88,-18.5 16.75,-18.38 16.75,-18.12 16.62,-18 16.62,-17.75 16.5,-17.62 16.5,-17.38 16.38,-17.25 16.38,-17 16.25,-16.88 16.25,-16.62 16.12,-16.5 16.12,-16.25 16,-16.12 16,-15.88 15.88,-15.75 15.88,-15.5 15.75,-15.38 15.75,-15.12 15.62,-15 15.62,-14.75 15.5,-14.62 15.5,-14.38 15.38,-14.25 15.38,-14 15.25,-13.88 15.25,-13.62 15.12,-13.5 15.12,-13.25 15,-13.12 15,-12.88 14.88,-12.75 14.88,-12.5 14.75,-12.38 14.75,-12.12 14.62,-12 14.62,-11.75 14.5,-11.62 14.5,-11.38 14.38,-11.25 14.38,-11 14.25,-10.88 14.25,-10.62 14.12,-10.5 14.12,-10.25 14,-10.12 14,-9.88 13.88,-9.75 13.88,-9.5 13.75,-9.38 13.75,-9.12 12.75,-6.38 12.75,-6.12 12.5,-5.75 12.25,-6.12 12.25,-6.38 12.12,-6.5 12.12,-6.75 12,-6.88 12,-7.12 11.88,-7.25 11.88,-7.5 11.75,-7.62 11.75,-7.88 11.62,-8 11.62,-8.25 11.5,-8.38 11.5,-8.62 11.38,-8.75 11.38,-9 11.25,-9.12 11.25,-9.38 11.12,-9.5 11.12,-9.75 11,-9.88 11,-10.12 10.88,-10.25 10.88,-10.5 10.75,-10.62 10.75,-10.88 10.62,-11 10.62,-11.25 10.5,-11.38 10.5,-11.62 10.38,-11.75 10.38,-12 10.25,-12.12 10.25,-12.38 10.12,-12.5 10.12,-12.75 10,-12.88 10,-13.12 9.88,-13.25 9.88,-13.5 9.75,-13.62 9.75,-13.88 9.62,-14 9.62,-14.25 9.5,-14.38 9.5,-14.62 9.38,-14.75 9.38,-15 9.25,-15.12 9.25,-15.38 9.12,-15.5 9.12,-15.75 9,-15.88 9,-16.12 8.88,-16.25 8.88,-16.5 8.75,-16.62 8.75,-16.88 8.62,-17 8.62,-17.25 8.5,-17.38 8.5,-17.62 8.38,-17.75 8.38,-18 7.38,-20.75 7.25,-21.5 6.38,-22.25 1.62,-22.25 0.88,-21.62 0.75,-21.38 0.75,-20.62 1.38,-19.88 1.62,-19.75 3.62,-19.75 3.75,-19.62 3.75,-1.38 3.62,-1.25 1.62,-1.25 0.88,-0.62 0.75,-0.38 0.75,0.38 1.38,1.12 1.62,1.25 8.38,1.25 8.62,1.12 9.25,0.38 9.25,-0.38 8.62,-1.12 8.38,-1.25 6.38,-1.25 6.25,-1.38 6.25,-12.5 6.38,-12.62 6.62,-12.25 6.62,-12 6.75,-11.88 6.75,-11.62 6.88,-11.5 6.88,-11.25 7,-11.12 7,-10.88 7.12,-10.75 7.12,-10.5 7.25,-10.38 7.25,-10.12 7.38,-10 7.38,-9.75 7.5,-9.62 7.5,-9.38 7.62,-9.25 7.62,-9 7.75,-8.88 7.75,-8.62 7.88,-8.5 7.88,-8.25 8,-8.12 8,-7.88 8.12,-7.75 8.12,-7.5 8.25,-7.38 8.25,-7.12 8.38,-7 8.38,-6.75 8.5,-6.62 8.5,-6.38 8.62,-6.25 8.62,-6 8.75,-5.88 8.75,-5.62 8.88,-5.5 8.88,-5.25 9,-5.12 9,-4.88 9.12,-4.75 9.12,-4.5 9.25,-4.38 9.25,-4.12 9.38,-4 9.38,-3.75 9.5,-3.62 9.5,-3.38 9.62,-3.25 9.62,-3 10.62,-0.25 10.75,0.5 11.38,1.12 11.62,1.25 12.38,1.25 13.25,0.5 13.38,-0.25 13.5,-0.38 13.5,-0.62 13.62,-0.75 13.62,-1 13.75,-1.12 13.75,-1.38 13.88,-1.5 13.88,-1.75 14,-1.88 14,-2.12 14.12,-2.25 14.12,-2.5 14.25,-2.62 14.25,-2.88 14.38,-3 14.38,-3.25 14.5,-3.38 14.5,-3.62 14.62,-3.75 14.62,-4 14.75,-4.12 14.75,-4.38 14.88,-4.5 14.88,-4.75 15,-4.88 15,-5.12 15.12,-5.25 15.12,-5.5 15.25,-5.62 15.25,-5.88 15.38,-6 15.38,-6.25 15.5,-6.38 15.5,-6.62 15.62,-6.75 15.62,-7 15.75,-7.12 15.75,-7.38 15.88,-7.5 15.88,-7.75 16,-7.88 17.38,-12.25 17.62,-12.62 17.75,-12.5 17.75,-1.38 17.62,-1.25 15.62,-1.25 15.38,-1.12 14.75,-0.38 14.75,0.38 14.88,0.62 15.62,1.25 23.38,1.25 24.12,0.62 24.25,0.38 24.25,-0.38 23.62,-1.12 23.38,-1.25 21.38,-1.25 21.25,-1.38 21.25,-19.62 21.38,-19.75 23.38,-19.75 24.12,-20.38 24.25,-20.62 24.25,-21.38Z"/>
<path transform="translate(30.85,452.85) rotate(-90) scale(0.85,1)" fill="#000" fill-rule="evenodd" d="M2.75,-6.38 2.75,-5.62 2.88,-5.38 3.62,-4.75 22.38,-4.75 22.62,-4.88 23.25,-5.62 23.25,-6.38 23.12,-6.62 22.38,-7.25 3.62,-7.25 3.38,-7.12ZM2.75,-12.38 2.75,-11.62 2.88,-11.38 3.62,-10.75 22.38,-10.75 22.62,-10.88 23.25,-11.62 23.25,-12.38 23.12,-12.62 22.38,-13.25 3.62,-13.25 3.38,-13.12Z"/>
<path transform="translate(30.85,427.42) rotate(-90) scale(0.82,1)" fill="#000" fill-rule="evenodd" d="M11.38,-22.25 10.62,-22.25 10,-21.88 9.88,-21.62 9.38,-21.12 9.25,-21.12 7.38,-19.12 5.75,-18.25 5.5,-18.25 4.75,-17.38 4.75,-16.62 4.88,-16.38 5.62,-15.75 6.38,-15.75 8.25,-16.75 8.5,-16.75 8.62,-16.88 8.75,-16.75 8.75,-1.38 8.62,-1.25 5.62,-1.25 5.38,-1.12 4.75,-0.38 4.75,0.38 4.88,0.62 5.62,1.25 15.38,1.25 15.62,1.12 16.25,0.38 16.25,-0.38 16.12,-0.62 15.38,-1.25 12.38,-1.25 12.25,-1.38 12.25,-21.38 12.12,-21.62Z"/>
<path transform="translate(30.85,409.9) rotate(-90) scale(0.97,1)" fill="#000" fill-rule="evenodd" d="M9,-22.38 8.88,-22.25 8.5,-22.25 8.12,-22 7.88,-22 7.75,-21.88 7.5,-21.88 7.38,-21.75 5.38,-21.12 4.75,-20.5 3.25,-18.12 2.88,-17.75 2.88,-17.5 2.62,-17 2.62,-16.38 2.5,-16.25 2.5,-15.75 2.38,-15.62 2.38,-15.12 2.25,-15 2.25,-14.5 2.12,-14.38 1.88,-12.62 1.75,-12.5 1.75,-8.5 1.88,-8.38 1.88,-7.88 2,-7.75 2,-7.25 2.12,-7.12 2.12,-6.62 2.25,-6.5 2.25,-6 2.38,-5.88 2.38,-5.38 2.5,-5.25 2.5,-4.75 2.62,-4.62 2.62,-4 2.75,-3.88 2.88,-3.25 3.25,-2.88 4.75,-0.5 5.62,0.25 8.12,1 8.5,1.25 11.5,1.25 11.88,1 12.12,1 12.25,0.88 12.5,0.88 12.62,0.75 14.62,0.12 15.25,-0.5 16.75,-2.88 17.12,-3.25 17.12,-3.5 17.38,-4 17.38,-4.62 17.5,-4.75 17.5,-5.25 17.62,-5.38 17.62,-5.88 17.75,-6 17.75,-6.5 17.88,-6.62 18.12,-8.38 18.25,-8.5 18.25,-12.5 18.12,-12.62 18.12,-13.12 18,-13.25 18,-13.75 17.88,-13.88 17.88,-14.38 17.75,-14.5 17.75,-15 17.62,-15.12 17.62,-15.62 17.5,-15.75 17.5,-16.25 17.38,-16.38 17.38,-17 17.25,-17.12 17.12,-17.75 16.75,-18.12 15.25,-20.5 14.38,-21.25 11.88,-22 11.5,-22.25 9.12,-22.25ZM9.38,-19.75 10.62,-19.75 10.75,-19.62 11,-19.62 12,-19.12 12.88,-18.38 13.88,-16.38 13.88,-15.88 14,-15.75 14,-15.25 14.12,-15.12 14.12,-14.62 14.25,-14.5 14.25,-14 14.38,-13.88 14.38,-13.38 14.5,-13.25 14.5,-12.75 14.62,-12.62 14.62,-12 14.75,-11.88 14.75,-9.12 14.62,-9 14.62,-8.38 14.5,-8.25 14.5,-7.75 14.38,-7.62 14.38,-7.12 14.25,-7 14.25,-6.5 14.12,-6.38 14.12,-5.88 14,-5.75 14,-5.25 13.88,-5.12 13.75,-4.25 13.12,-3 12.38,-2.12 10.62,-1.25 9.38,-1.25 9.25,-1.38 9,-1.38 8,-1.88 7.12,-2.62 6.12,-4.62 6.12,-5.12 6,-5.25 6,-5.75 5.88,-5.88 5.88,-6.38 5.75,-6.5 5.75,-7 5.62,-7.12 5.62,-7.62 5.5,-7.75 5.5,-8.25 5.38,-8.38 5.38,-9 5.25,-9.12 5.25,-11.88 5.38,-12 5.38,-12.62 5.5,-12.75 5.5,-13.25 5.62,-13.38 5.62,-13.88 5.75,-14 5.75,-14.5 5.88,-14.62 5.88,-15.12 6,-15.25 6,-15.75 6.12,-15.88 6.25,-16.75 6.88,-18 7.62,-18.88Z"/>
<path transform="translate(19.55,390.1) rotate(-90) scale(0.97,1)" fill="#000" fill-rule="evenodd" d="M17,-13.88 16.25,-13.5 15.12,-13.25 14.62,-12.75 14.5,-12.75 14.12,-12 13.25,-10.88 13.12,-10.12 13,-10 13,-9.5 12.88,-9.38 12.88,-8.88 12.75,-8.75 12.75,-8.25 12.62,-8.12 12.62,-7.62 12.5,-7.5 12.5,-5 12.75,-4.38 12.75,-3.88 12.88,-3.75 12.88,-3.25 13,-3.12 13,-2.62 13.12,-2.5 13.25,-1.75 14.75,0.38 15.12,0.62 16.5,1 16.88,1.25 19.12,1.25 19.5,1 20.88,0.62 21.25,0.38 22.75,-1.75 22.88,-2.5 23,-2.62 23,-3.12 23.12,-3.25 23.12,-3.75 23.25,-3.88 23.25,-4.38 23.5,-5 23.5,-7.5 23.38,-7.62 23.38,-8.12 23.25,-8.25 23.25,-8.75 23.12,-8.88 23.12,-9.38 23,-9.5 23,-10 22.88,-10.12 22.75,-10.88 22.38,-11.25 21.5,-12.75 21.38,-12.75 20.88,-13.25 20.12,-13.38 19,-13.88ZM17.88,-11.38 18.5,-11.25 19,-11 19.38,-10.62 19.88,-9.5 20,-8.5 20.12,-8.38 20.12,-7.88 20.25,-7.75 20.25,-7 20.38,-6.88 20.38,-5.75 20.25,-5.62 20.25,-4.88 20.12,-4.75 19.88,-3 19.38,-2 19,-1.62 18.25,-1.25 17.75,-1.25 17,-1.62 16.62,-2 16.12,-3 16.12,-3.5 16,-3.62 16,-4.12 15.88,-4.25 15.88,-4.75 15.75,-4.88 15.75,-5.62 15.62,-5.75 15.75,-7.75 15.88,-7.88 15.88,-8.38 16,-8.5 16,-9 16.12,-9.12 16.25,-9.88 16.62,-10.62 17,-11ZM6.25,-13.88 5.62,-13.5 4.25,-12 3,-11.38 2.38,-10.62 2.38,-9.75 2.88,-9.12 3.5,-9 3.62,-8.88 3.75,-9 4.12,-9 4.5,-9.25 4.75,-9.12 4.75,-1.38 4.62,-1.25 3.25,-1.25 3,-1.12 2.38,-0.38 2.38,0.38 2.5,0.62 3.25,1.25 9.38,1.25 9.62,1.12 10.25,0.38 10.25,-0.38 10.12,-0.62 9.38,-1.25 8,-1.25 7.88,-1.38 7.88,-12.88 7.75,-13 7.75,-13.25 7.38,-13.62 6.88,-13.88Z"/>
<path transform="translate(30.85,358.56) rotate(-90) scale(0.88,1)" fill="#000" fill-rule="evenodd" d="M23.62,-22.12 23.38,-22.25 19.12,-22.25 19,-22.38 18.88,-22.25 18.5,-22.25 17.88,-21.75 17.62,-21.12 17.62,-20.75 17.5,-20.62 17.5,-20.38 17.38,-20.25 17.38,-20 17.25,-19.88 17.25,-19.62 17.12,-19.5 17.12,-19.25 17,-19.12 17,-18.88 16.88,-18.75 16.88,-18.5 16.75,-18.38 16.75,-18.12 16.62,-18 16.62,-17.75 16.5,-17.62 16.5,-17.38 16.38,-17.25 16.38,-17 16.25,-16.88 16.25,-16.62 16.12,-16.5 16.12,-16.25 16,-16.12 16,-15.88 15.88,-15.75 15.88,-15.5 15.75,-15.38 15.75,-15.12 15.62,-15 15.62,-14.75 15.5,-14.62 15.5,-14.38 15.38,-14.25 15.38,-14 15.25,-13.88 15.25,-13.62 15.12,-13.5 15.12,-13.25 15,-13.12 15,-12.88 14.88,-12.75 14.88,-12.5 14.75,-12.38 14.75,-12.12 14.62,-12 14.62,-11.75 14.5,-11.62 14.5,-11.38 14.38,-11.25 14.38,-11 14.25,-10.88 14.25,-10.62 14.12,-10.5 14.12,-10.25 14,-10.12 14,-9.88 13.88,-9.75 13.88,-9.5 13.75,-9.38 13.75,-9.12 12.75,-6.38 12.75,-6.12 12.5,-5.75 12.25,-6.12 12.25,-6.38 12.12,-6.5 12.12,-6.75 12,-6.88 12,-7.12 11.88,-7.25 11.88,-7.5 11.75,-7.62 11.75,-7.88 11.62,-8 11.62,-8.25 11.5,-8.38 11.5,-8.62 11.38,-8.75 11.38,-9 11.25,-9.12 11.25,-9.38 11.12,-9.5 11.12,-9.75 11,-9.88 11,-10.12 10.88,-10.25 10.88,-10.5 10.75,-10.62 10.75,-10.88 10.62,-11 10.62,-11.25 10.5,-11.38 10.5,-11.62 10.38,-11.75 10.38,-12 10.25,-12.12 10.25,-12.38 10.12,-12.5 10.12,-12.75 10,-12.88 10,-13.12 9.88,-13.25 9.88,-13.5 9.75,-13.62 9.75,-13.88 9.62,-14 9.62,-14.25 9.5,-14.38 9.5,-14.62 9.38,-14.75 9.38,-15 9.25,-15.12 9.25,-15.38 9.12,-15.5 9.12,-15.75 9,-15.88 9,-16.12 8.88,-16.25 8.88,-16.5 8.75,-16.62 8.75,-16.88 8.62,-17 8.62,-17.25 8.5,-17.38 8.5,-17.62 8.38,-17.75 8.38,-18 7.38,-20.75 7.25,-21.5 6.38,-22.25 1.62,-22.25 0.88,-21.62 0.75,-21.38 0.75,-20.62 1.38,-19.88 1.62,-19.75 3.62,-19.75 3.75,-19.62 3.75,-1.38 3.62,-1.25 1.62,-1.25 0.88,-0.62 0.75,-0.38 0.75,0.38 1.38,1.12 1.62,1.25 8.38,1.25 8.62,1.12 9.25,0.38 9.25,-0.38 8.62,-1.12 8.38,-1.25 6.38,-1.25 6.25,-1.38 6.25,-12.5 6.38,-12.62 6.62,-12.25 6.62,-12 6.75,-11.88 6.75,-11.62 6.88,-11.5 6.88,-11.25 7,-11.12 7,-10.88 7.12,-10.75 7.12,-10.5 7.25,-10.38 7.25,-10.12 7.38,-10 7.38,-9.75 7.5,-9.62 7.5,-9.38 7.62,-9.25 7.62,-9 7.75,-8.88 7.75,-8.62 7.88,-8.5 7.88,-8.25 8,-8.12 8,-7.88 8.12,-7.75 8.12,-7.5 8.25,-7.38 8.25,-7.12 8.38,-7 8.38,-6.75 8.5,-6.62 8.5,-6.38 8.62,-6.25 8.62,-6 8.75,-5.88 8.75,-5.62 8.88,-5.5 8.88,-5.25 9,-5.12 9,-4.88 9.12,-4.75 9.12,-4.5 9.25,-4.38 9.25,-4.12 9.38,-4 9.38,-3.75 9.5,-3.62 9.5,-3.38 9.62,-3.25 9.62,-3 10.62,-0.25 10.75,0.5 11.38,1.12 11.62,1.25 12.38,1.25 13.25,0.5 13.38,-0.25 13.5,-0.38 13.5,-0.62 13.62,-0.75 13.62,-1 13.75,-1.12 13.75,-1.38 13.88,-1.5 13.88,-1.75 14,-1.88 14,-2.12 14.12,-2.25 14.12,-2.5 14.25,-2.62 14.25,-2.88 14.38,-3 14.38,-3.25 14.5,-3.38 14.5,-3.62 14.62,-3.75 14.62,-4 14.75,-4.12 14.75,-4.38 14.88,-4.5 14.88,-4.75 15,-4.88 15,-5.12 15.12,-5.25 15.12,-5.5 15.25,-5.62 15.25,-5.88 15.38,-6 15.38,-6.25 15.5,-6.38 15.5,-6.62 15.62,-6.75 15.62,-7 15.75,-7.12 15.75,-7.38 15.88,-7.5 15.88,-7.75 16,-7.88 17.38,-12.25 17.62,-12.62 17.75,-12.5 17.75,-1.38 17.62,-1.25 15.62,-1.25 15.38,-1.12 14.75,-0.38 14.75,0.38 14.88,0.62 15.62,1.25 23.38,1.25 24.12,0.62 24.25,0.38 24.25,-0.38 23.62,-1.12 23.38,-1.25 21.38,-1.25 21.25,-1.38 21.25,-19.62 21.38,-19.75 23.38,-19.75 24.12,-20.38 24.25,-20.62 24.25,-21.38Z"/>
<path transform="translate(30.31,318.4) rotate(-90) scale(0.97,0.94)" fill="#000" fill-rule="evenodd" d="M2.62,-26.25 1.88,-25.62 1.75,-25.38 1.75,-24.62 2,-24.12 2.38,-23.88 4.12,-22 5.75,-18.75 5.75,-18.5 6,-18.12 6,-17.88 6.75,-15.88 6.88,-14.88 7,-14.75 7,-14.25 7.12,-14.12 7.12,-13.62 7.25,-13.5 7.25,-13 7.38,-12.88 7.38,-12.38 7.5,-12.25 7.5,-11.75 7.62,-11.62 7.62,-11 7.75,-10.88 7.75,-7.12 7.62,-7 7.62,-6.38 7.5,-6.25 7.5,-5.75 7.38,-5.62 7.38,-5.12 7.25,-5 7.25,-4.5 7.12,-4.38 6.88,-2.62 6.75,-2.5 6.75,-2.12 6.62,-2 6,0.12 4.12,4 3.75,4.5 2,6.12 1.75,6.62 1.75,7.38 1.88,7.62 2.62,8.25 3.38,8.25 4,7.88 4.12,7.62 6.12,5.75 6.25,5.38 7.75,3.12 8.12,2.75 8.25,2.25 9.88,-1 10.12,-1.25 10.12,-1.5 10.38,-2 10.38,-2.62 10.5,-2.75 10.5,-3.25 10.62,-3.38 10.62,-3.88 10.75,-4 10.75,-4.5 10.88,-4.62 11.12,-6.38 11.25,-6.5 11.25,-11.5 11.12,-11.62 11.12,-12.12 11,-12.25 11,-12.75 10.88,-12.88 10.88,-13.38 10.75,-13.5 10.75,-14 10.62,-14.12 10.62,-14.62 10.5,-14.75 10.5,-15.25 10.38,-15.38 10.38,-16 10.25,-16.12 10.12,-16.75 9.88,-17 8.25,-20.25 8.12,-20.75 7.75,-21.12 6.25,-23.38 6.12,-23.75 5.62,-24.12 4.12,-25.62 4,-25.88 3.38,-26.25Z"/>
<path transform="translate(30.85,289.77) rotate(-90) scale(0.97,1)" fill="#000" fill-rule="evenodd" d="M3.62,-26.25 3.38,-26.12 2.75,-25.38 2.75,7.38 2.88,7.62 3.62,8.25 11.38,8.25 11.62,8.12 12.25,7.38 12.25,6.62 11.62,5.88 11.38,5.75 6.38,5.75 6.25,5.62 6.25,-23.62 6.38,-23.75 11.38,-23.75 12.12,-24.38 12.25,-24.62 12.25,-25.38 12.12,-25.62 11.38,-26.25Z"/>
<path transform="translate(30.85,275.8) rotate(-90) scale(0.97,1)" fill="#000" fill-rule="evenodd" d="M43.5,-15.25 43,-14.88 41.75,-14.25 41.5,-14.25 41,-13.88 40.88,-13.62 40,-12.88 39.12,-11 38.88,-10.75 38.88,-10.5 38.75,-10.38 38.75,-7.62 39.38,-6.5 39.38,-6.25 38.75,-5.5 38.75,-5.25 37.75,-3.38 37.75,-1.5 38.5,-0.25 37.75,0.5 37.75,0.75 37.12,2 36.88,2.25 36.88,2.5 36.75,2.62 36.75,4.38 37.75,6.25 37.75,6.5 38.38,7.12 40.38,7.75 40.5,7.88 40.75,7.88 40.88,8 41.12,8 41.5,8.25 48.5,8.25 48.88,8 49.12,8 49.25,7.88 49.5,7.88 49.62,7.75 51.62,7.12 52.25,6.5 52.25,6.25 52.88,5 53.12,4.75 53.12,4.5 53.25,4.38 53.25,2.5 52.88,2 52.25,0.75 52.25,0.5 51.38,-0.25 48.88,-1 48.5,-1.25 43.25,-1.25 43.12,-1.38 42.75,-1.38 42.62,-1.5 40.88,-2 40.5,-2.25 40.25,-2.62 41,-4.12 41.5,-3.75 41.75,-3.75 43.62,-2.75 46.38,-2.75 48.25,-3.75 48.5,-3.75 49,-4.12 49.12,-4.38 49.62,-4.88 49.75,-4.88 50.25,-5.5 50.25,-5.75 51.25,-7.62 51.25,-10.38 50.62,-11.62 50.75,-11.75 52.38,-11.75 53.12,-12.38 53.25,-12.62 53.25,-14.38 52.62,-15.12 52.38,-15.25 51.62,-15.25 49.75,-14.25 49.5,-14.25 49.12,-13.88 48.88,-13.88 48.5,-14.25 48.25,-14.25 46.38,-15.25ZM39.25,3.38 39.75,2.25 40,2 40.62,1.75 41.38,1.75 41.5,1.88 42.12,2 42.5,2.25 47.75,2.25 47.88,2.38 48.25,2.38 48.38,2.5 50.12,3 50.5,3.25 50.75,3.62 50.25,4.75 50,5 48.38,5.5 48.25,5.62 47.88,5.62 47.75,5.75 42.25,5.75 42.12,5.62 41.75,5.62 41.62,5.5 40,5 39.75,4.75 39.38,4ZM44.38,-12.75 45.62,-12.75 46.75,-12.25 47.25,-11.75 47.75,-10.62 47.75,-7.38 47.62,-7.25 47.62,-7 47.25,-6.25 46.75,-5.75 45.62,-5.25 44.38,-5.25 43.25,-5.75 42.75,-6.25 42.25,-7.38 42.25,-10.62 42.38,-10.75 42.38,-11 42.75,-11.75 43.25,-12.25ZM20.62,-15.25 20.38,-15.12 19.75,-14.38 19.75,-13.62 19.88,-13.38 20.62,-12.75 22.62,-12.75 22.75,-12.62 22.75,-1.38 22.62,-1.25 20.62,-1.25 20.38,-1.12 19.75,-0.38 19.75,0.38 19.88,0.62 20.62,1.25 28.38,1.25 28.62,1.12 29.25,0.38 29.25,-0.38 29.12,-0.62 28.38,-1.25 26.38,-1.25 26.25,-1.38 26.25,-7.75 26.38,-7.88 26.38,-8.25 26.5,-8.38 27,-10.12 28.62,-11.88 30,-12.62 30.75,-12.75 30.88,-12.62 30.75,-12.38 30.75,-11.62 31,-11.12 32.38,-9.88 32.62,-9.75 33.38,-9.75 34,-10.12 34.12,-10.38 35,-11.12 35.25,-11.62 35.25,-13.38 35,-13.88 34.62,-14.12 34,-14.88 33.38,-15.25 29.62,-15.25 27.75,-14.25 27.5,-14.25 27,-13.88 26.5,-13.25 26.25,-13.38 26.25,-14.38 26.12,-14.62 25.38,-15.25ZM8.5,-15.25 8.12,-15 7.88,-15 7.75,-14.88 7.5,-14.88 7.38,-14.75 5.38,-14.12 5,-13.88 4.88,-13.62 3,-11.88 2.75,-11.38 2,-8.88 1.75,-8.5 1.75,-5.5 2,-5.12 2,-4.88 3,-2.12 3.38,-1.88 4.88,-0.38 5,-0.12 5.62,0.25 8.12,1 8.5,1.25 11.5,1.25 11.88,1 14.38,0.25 15,-0.12 15.12,-0.38 17,-2.12 17.25,-2.62 17.25,-3.38 17.12,-3.62 16.38,-4.25 15.62,-4.25 15,-3.88 14.88,-3.62 13.12,-2 12.88,-2 11.25,-1.38 10.88,-1.38 10.75,-1.25 9.38,-1.25 7.62,-2.12 6.25,-3.5 6,-3.88 6,-4.12 5.38,-5.75 5.25,-6.62 5.38,-6.75 16.38,-6.75 16.62,-6.88 17.25,-7.62 17.25,-10.38 16,-12.88 14.5,-14.25 14.25,-14.25 12.38,-15.25ZM5.88,-9.75 6.25,-10.5 7.62,-11.88 9.38,-12.75 11.62,-12.75 11.75,-12.62 12,-12.62 12.75,-12.25 13.25,-11.75 13.75,-10.62 13.75,-9.38 13.62,-9.25 6,-9.25 5.88,-9.38Z"/>
<path transform="translate(29.95,222.03) rotate(-90) scale(0.97,0.9)" fill="#000" fill-rule="evenodd" d="M20.62,-26.12 20.38,-26.25 19.62,-26.25 18.75,-25.5 17.75,-23.5 17,-22.38 16.62,-21.5 15.88,-20.38 15.5,-19.5 14.75,-18.38 14.38,-17.5 13.62,-16.38 13.25,-15.5 12.5,-14.38 12.12,-13.5 11.38,-12.38 11,-11.5 10.25,-10.38 9.88,-9.5 9.12,-8.38 8.75,-7.5 8,-6.38 7.62,-5.5 6.88,-4.38 6.5,-3.5 5.75,-2.38 5.38,-1.5 4.62,-0.38 4.25,0.5 3.5,1.62 2,4.5 1.75,4.75 1.5,5.38 0.88,6.25 0.88,6.5 0.75,6.62 0.75,7.38 1.38,8.12 1.62,8.25 2.38,8.25 3.25,7.5 4.25,5.5 5,4.38 5.38,3.5 6.12,2.38 6.5,1.5 7.25,0.38 7.62,-0.5 8.38,-1.62 8.75,-2.5 9.5,-3.62 9.88,-4.5 10.62,-5.62 11,-6.5 11.75,-7.62 12.12,-8.5 12.88,-9.62 13.25,-10.5 14,-11.62 14.38,-12.5 15.12,-13.62 15.5,-14.5 16.25,-15.62 16.62,-16.5 17.38,-17.62 17.75,-18.5 18.5,-19.62 20,-22.5 20.25,-22.75 20.5,-23.38 21.12,-24.25 21.12,-24.5 21.25,-24.62 21.25,-25.38Z"/>
<path transform="translate(30.85,201.3) rotate(-90) scale(0.97,1)" fill="#000" fill-rule="evenodd" d="M5.62,-15.25 3.75,-14.25 3.5,-14.25 2,-12.88 1.75,-12.38 1.75,-9.62 2,-9.12 3.5,-7.75 3.75,-7.75 5.25,-7 5.5,-6.75 6.12,-6.62 6.5,-6.38 6.75,-6.38 7.12,-6.12 7.38,-6.12 7.75,-5.88 8,-5.88 8.38,-5.62 8.62,-5.62 9,-5.38 9.88,-5.12 12,-4.12 12.62,-3.62 12.75,-3.38 12.75,-2.62 12.62,-2.38 12,-1.88 10.62,-1.25 7.38,-1.25 6,-1.88 5.25,-2.5 4.88,-3 4.25,-4.25 4.25,-4.5 3.62,-5.12 3.38,-5.25 2.62,-5.25 2.38,-5.12 1.75,-4.38 1.75,0.38 1.88,0.62 2.62,1.25 3.38,1.25 3.62,1.12 4.25,0.5 4.25,0.25 4.38,0.12 6.62,1.25 11.38,1.25 13.25,0.25 13.5,0.25 15,-1.12 15.25,-1.62 15.25,-5.38 15,-5.88 13.5,-7.25 13.25,-7.25 11.75,-8 11.5,-8.25 10.88,-8.38 10.5,-8.62 10.25,-8.62 9.88,-8.88 9.62,-8.88 9.25,-9.12 9,-9.12 8.62,-9.38 8.38,-9.38 8,-9.62 7.12,-9.88 6.5,-10.25 6.25,-10.25 4.62,-11.12 4.38,-11.38 4.38,-11.62 5,-12.12 6.38,-12.75 9.62,-12.75 11,-12.12 11.75,-11.5 12.12,-11 12.75,-9.75 12.75,-9.5 13.38,-8.88 13.62,-8.75 14.38,-8.75 14.62,-8.88 15.25,-9.62 15.25,-14.38 15.12,-14.62 14.38,-15.25 13.62,-15.25 13.38,-15.12 12.75,-14.5 12.75,-14.25 12.62,-14.12 10.38,-15.25Z"/>
<path transform="translate(29.95,183.93) rotate(-90) scale(0.97,0.9)" fill="#000" fill-rule="evenodd" d="M20.62,-26.12 20.38,-26.25 19.62,-26.25 18.75,-25.5 17.75,-23.5 17,-22.38 16.62,-21.5 15.88,-20.38 15.5,-19.5 14.75,-18.38 14.38,-17.5 13.62,-16.38 13.25,-15.5 12.5,-14.38 12.12,-13.5 11.38,-12.38 11,-11.5 10.25,-10.38 9.88,-9.5 9.12,-8.38 8.75,-7.5 8,-6.38 7.62,-5.5 6.88,-4.38 6.5,-3.5 5.75,-2.38 5.38,-1.5 4.62,-0.38 4.25,0.5 3.5,1.62 2,4.5 1.75,4.75 1.5,5.38 0.88,6.25 0.88,6.5 0.75,6.62 0.75,7.38 1.38,8.12 1.62,8.25 2.38,8.25 3.25,7.5 4.25,5.5 5,4.38 5.38,3.5 6.12,2.38 6.5,1.5 7.25,0.38 7.62,-0.5 8.38,-1.62 8.75,-2.5 9.5,-3.62 9.88,-4.5 10.62,-5.62 11,-6.5 11.75,-7.62 12.12,-8.5 12.88,-9.62 13.25,-10.5 14,-11.62 14.38,-12.5 15.12,-13.62 15.5,-14.5 16.25,-15.62 16.62,-16.5 17.38,-17.62 17.75,-18.5 18.5,-19.62 20,-22.5 20.25,-22.75 20.5,-23.38 21.12,-24.25 21.12,-24.5 21.25,-24.62 21.25,-25.38Z"/>
<path transform="translate(30.85,160.93) rotate(-90) scale(0.83,1)" fill="#000" fill-rule="evenodd" d="M1.38,-22.12 0.75,-21.38 0.75,-20.62 0.88,-20.38 1.62,-19.75 3.62,-19.75 3.75,-19.62 3.75,-1.38 3.62,-1.25 1.62,-1.25 1.38,-1.12 0.75,-0.38 0.75,0.38 0.88,0.62 1.62,1.25 9.38,1.25 9.62,1.12 10.25,0.38 10.25,-0.38 10.12,-0.62 9.38,-1.25 7.38,-1.25 7.25,-1.38 7.25,-9.62 7.38,-9.75 16.62,-9.75 16.75,-9.62 16.75,-1.38 16.62,-1.25 14.62,-1.25 14.38,-1.12 13.75,-0.38 13.75,0.38 13.88,0.62 14.62,1.25 22.38,1.25 22.62,1.12 23.25,0.38 23.25,-0.38 23.12,-0.62 22.38,-1.25 20.38,-1.25 20.25,-1.38 20.25,-19.62 20.38,-19.75 22.38,-19.75 22.62,-19.88 23.25,-20.62 23.25,-21.38 23.12,-21.62 22.38,-22.25 14.62,-22.25 14.38,-22.12 13.75,-21.38 13.75,-20.62 13.88,-20.38 14.62,-19.75 16.62,-19.75 16.75,-19.62 16.75,-12.38 16.62,-12.25 7.38,-12.25 7.25,-12.38 7.25,-19.62 7.38,-19.75 9.38,-19.75 9.62,-19.88 10.25,-20.62 10.25,-21.38 10.12,-21.62 9.38,-22.25 1.62,-22.25Z"/>
<path transform="translate(30.85,138.96) rotate(-90) scale(0.89,1)" fill="#000" fill-rule="evenodd" d="M2.38,-15.12 1.75,-14.38 1.75,-9.62 1.88,-9.38 2.62,-8.75 3.38,-8.75 4.12,-9.38 4.38,-10 4.38,-10.38 4.5,-10.5 4.88,-12.38 5.12,-12.75 11.12,-12.75 11.25,-12.5 10.75,-12 10.38,-11.38 9.88,-10.88 7.62,-7.88 6.62,-6.75 6.25,-6.12 5.25,-5 4.88,-4.38 3.88,-3.25 3.5,-2.62 2,-0.88 1.75,-0.38 1.75,0.38 1.88,0.62 2.62,1.25 15.38,1.25 15.62,1.12 16.25,0.38 16.25,-4.38 16.12,-4.62 15.38,-5.25 14.62,-5.25 13.88,-4.62 13.62,-4 13.62,-3.62 13.5,-3.5 13.12,-1.62 12.88,-1.25 6.88,-1.25 6.75,-1.5 7.25,-2 7.62,-2.62 8.12,-3.12 10.38,-6.12 11.38,-7.25 11.75,-7.88 12.75,-9 13.12,-9.62 14.12,-10.75 14.5,-11.38 16,-13.12 16.25,-13.62 16.25,-14.38 16.12,-14.62 15.38,-15.25 2.62,-15.25Z"/>
<path transform="translate(30.85,120.8) rotate(-90) scale(0.97,1)" fill="#000" fill-rule="evenodd" d="M2.62,-26.25 2.38,-26.12 1.75,-25.38 1.75,-24.62 2.38,-23.88 2.62,-23.75 7.62,-23.75 7.75,-23.62 7.75,5.62 7.62,5.75 2.62,5.75 1.88,6.38 1.75,6.62 1.75,7.38 1.88,7.62 2.62,8.25 10.38,8.25 10.62,8.12 11.25,7.38 11.25,-25.38 11.12,-25.62 10.38,-26.25Z"/>
<path d="M10.6,673.1H30.6" fill="none" stroke="#000" stroke-width="3.4" stroke-linecap="round"/>
<path d="M30.85,671.1V675.05M10.35,673.6V675" fill="none" stroke="#000" stroke-width="2.5" stroke-linecap="round"/>
<circle cx="25.3" cy="511" r="1.75" fill="none" stroke="#000" stroke-width="1.8"/>
<circle cx="33.65" cy="326.5" r="6.1" fill="none" stroke="#000" stroke-width="2.2"/>
<circle cx="33.65" cy="326.5" r="1.9" fill="#000"/>
<path d="M27.5,465.9V464.2H40 M31.8,464.2C31.5,460.5 32.2,457.3 35,457.3H40 M40.1,465.3V463.1 M40.1,458.3V456.3" fill="none" stroke="#000" stroke-width="2.9" stroke-linecap="round" stroke-linejoin="round"/>
<path d="M350.1,660.9H443.7" stroke="#0f0" stroke-width="2.6" stroke-dasharray="27.9 8.8" fill="none"/>
<path d="M350.1,701.4H443.7" stroke="#f00" stroke-width="2.6" fill="none"/>
<path transform="translate(459.8,666.7)" fill="#000" fill-rule="evenodd" d="M23.75,-3.25 23.62,-3.12 23.25,-3.12 22.88,-2.88 21.75,-1.75 21.5,-1.12 21.5,-0.75 21.88,0 22.12,0.12 22.75,0.88 23.38,1.25 24.12,1.25 24.75,0.88 24.88,0.62 25.62,0 26,-0.75 26,-1.12 25.75,-1.75 24.62,-2.88 24.25,-3.12 23.88,-3.12ZM60.12,-21.25 59.5,-21.25 58.62,-20.5 57.62,-19 56.5,-17.62 56.25,-17.12 55.12,-15.75 54.88,-15.25 53.75,-13.88 53.5,-13.38 52.38,-12 52.12,-11.5 51,-10.12 50.75,-9.62 49.62,-8.25 49.38,-7.75 48.25,-6.38 48.25,-6.12 48.12,-6 48.12,-5.38 48.38,-4.88 48.88,-4.5 49.25,-4.5 49.38,-4.38 57.5,-4.38 57.62,-4.25 57.62,-1.38 57.5,-1.25 55.62,-1.25 55,-0.75 54.75,-0.25 54.75,0.25 55,0.75 55.62,1.25 63.12,1.25 63.75,0.75 64,0.25 64,-0.25 63.75,-0.75 63.12,-1.25 61.25,-1.25 61.12,-1.38 61.12,-4.25 61.25,-4.38 64.62,-4.38 64.75,-4.5 65.12,-4.5 65.62,-4.88 65.88,-5.38 65.88,-6 65.62,-6.5 65.12,-6.88 64.88,-6.88 64.75,-7 61.25,-7 61.12,-7.12 61.12,-20.38 60.62,-21ZM57.5,-14.5 57.62,-14.38 57.62,-7.12 57.5,-7 52.12,-7 52,-7.12ZM32.88,-20.25 32.25,-19.88 32.12,-19.62 31.38,-19 30.12,-16.62 30.12,-16.25 30,-16.12 30.12,-15.88 30,-15.25 30.12,-15.12 30.25,-14.5 31.88,-13 32.75,-13 34.38,-14.5 34.38,-14.75 34.5,-14.88 34.5,-15.62 34.38,-15.88 33.25,-17 33.5,-17.5 34.12,-18 34.38,-18 36,-18.62 39.75,-18.62 41,-18 41.75,-17.25 42.38,-16 42.38,-14.38 41.88,-13.38 41.5,-13 39,-11.38 36,-9.88 35.75,-9.88 35.25,-9.5 34,-8.88 33.75,-8.88 31.25,-6.5 31,-6 30.25,-3.5 30.12,-3.38 30.12,-3 30,-2.88 30.12,-2.62 30.12,-2.12 30,-2 30,-1.75 30.12,-1.62 30.12,-0.25 30,-0.12 30.25,0.62 31,1.25 31.75,1.25 32,1.12 32.62,0.38 32.62,-1.38 32.88,-1.62 33.75,-1.62 34.88,-1 35.12,-0.75 35.5,-0.62 35.75,-0.38 36.12,-0.25 36.38,0 36.75,0.12 37,0.38 37.38,0.5 37.62,0.75 38,0.88 38.25,1.12 38.5,1.12 38.62,1.25 43.12,1.25 43.75,0.88 43.88,0.62 44.62,0 46,-2.75 46,-3.12 45.88,-3.25 45.88,-4.5 46,-4.75 45.75,-5.38 45.25,-5.88 45,-6 44.25,-6 44,-5.88 43.38,-5.12 43.38,-3.38 42.88,-2.88 41.62,-2.25 39,-2.25 38.62,-2.5 38.38,-2.5 38,-2.75 37.75,-2.75 37.38,-3 37.12,-3 36.75,-3.25 36.5,-3.25 36.12,-3.5 35.25,-3.75 34.62,-4.12 33.25,-4.12 33.12,-4.25 33.5,-5.12 35.25,-6.75 36.25,-7.25 36.5,-7.25 37.12,-7.62 37.38,-7.62 37.75,-7.88 38,-7.88 38.38,-8.12 38.62,-8.12 39,-8.38 39.25,-8.38 39.62,-8.62 39.88,-8.62 40.25,-8.88 41.12,-9.12 44.25,-11.12 44.88,-11.75 45.88,-13.75 45.88,-14.12 46,-14.25 45.88,-14.5 45.88,-15.88 46,-16 45.88,-16.62 44.88,-18.62 43.75,-19.88 43.12,-20.25 41,-20.88 40.25,-21.25 35.75,-21.25 35.38,-21ZM8.12,-21.25 7.75,-21 5.25,-20.25 4.88,-20 2.62,-16.75 2.5,-15.88 2.38,-15.75 2.38,-15.25 2.25,-15.12 2.25,-14.62 2.12,-14.5 2.12,-14 2,-13.88 2,-13.38 1.88,-13.25 1.88,-12.75 1.75,-12.62 1.75,-12.12 1.62,-12 1.62,-11.5 1.5,-11.38 1.62,-11.12 1.62,-8.88 1.5,-8.75 1.5,-8.5 1.62,-8.38 1.62,-7.88 1.75,-7.75 1.75,-7.25 1.88,-7.12 1.88,-6.62 2,-6.5 2,-6 2.12,-5.88 2.12,-5.38 2.25,-5.25 2.5,-3.5 4.5,-0.38 5,0.12 5.5,0.38 7.62,1 8,1.25 11,1.25 11.38,1 11.62,1 14,0.12 14.5,-0.38 16.25,-3 16.5,-3.5 16.5,-4 16.62,-4.12 16.62,-4.62 16.75,-4.75 16.75,-5.25 16.88,-5.38 16.88,-5.88 17,-6 17,-6.5 17.12,-6.62 17.12,-7.12 17.25,-7.25 17.25,-7.75 17.38,-7.88 17.38,-8.5 17.5,-8.62 17.38,-8.88 17.38,-11.12 17.5,-11.38 17.38,-11.5 17.38,-12 17.25,-12.12 17.25,-12.62 17.12,-12.75 17.12,-13.25 17,-13.38 17,-13.88 16.88,-14 16.88,-14.5 16.75,-14.62 16.75,-15.12 16.62,-15.25 16.62,-15.75 16.5,-15.88 16.38,-16.75 14.38,-19.75 13.75,-20.25 11.25,-21 10.88,-21.25ZM8.75,-18.62 10.25,-18.62 11.5,-18 12.38,-17.12 13.12,-15.5 13.12,-15 13.25,-14.88 13.25,-14.38 13.38,-14.25 13.38,-13.75 13.5,-13.62 13.5,-13.12 13.62,-13 13.62,-12.5 13.75,-12.38 13.75,-11.88 13.88,-11.75 13.88,-8.12 13.75,-8 13.75,-7.5 13.62,-7.38 13.62,-6.88 13.5,-6.75 13.5,-6.25 13.38,-6.12 13.38,-5.62 13.25,-5.5 13.25,-5 13.12,-4.88 13,-4.12 12.25,-2.62 11.62,-2 10.12,-1.25 8.88,-1.25 7.38,-2 6.75,-2.62 5.88,-4.5 5.75,-5.5 5.62,-5.62 5.62,-6.12 5.5,-6.25 5.5,-6.75 5.38,-6.88 5.38,-7.38 5.25,-7.5 5.25,-8 5.12,-8.12 5.12,-11.75 5.25,-11.88 5.25,-12.38 5.38,-12.5 5.38,-13 5.5,-13.12 5.5,-13.62 5.62,-13.75 5.62,-14.25 5.75,-14.38 5.75,-14.88 5.88,-15 6,-15.88 6.62,-17.12 7.5,-18Z"/>
<path transform="translate(543,666.7)" fill="#000" fill-rule="evenodd" d="M38.88,-14.12 38.62,-13.62 38.62,-13 38.88,-12.5 39.12,-12.25 39.75,-12 41.12,-12 41.75,-11.38 42.12,-10.75 42.62,-10.25 42.62,-10.12 43.12,-9.62 43.5,-9 45.62,-6.38 41.12,-1.25 39.5,-1.25 38.75,-0.62 38.62,-0.38 38.62,0.38 39.25,1.12 39.5,1.25 46,1.25 46.25,1.12 46.88,0.38 46.88,-0.38 46.75,-0.62 46,-1.25 44.75,-1.25 44.62,-1.38 47.12,-4.25 47.62,-3.88 49,-2 49.5,-1.5 49.38,-1.25 48.75,-1.12 48.12,-0.38 48.12,0.38 48.75,1.12 49,1.25 55.5,1.25 56.25,0.62 56.38,0.38 56.38,-0.38 56.25,-0.62 55.5,-1.25 53.88,-1.25 51.62,-4 50.75,-5.25 50.25,-5.75 49.88,-6.38 49.38,-6.88 53.75,-12 55.25,-12 55.88,-12.25 56.12,-12.5 56.38,-13 56.38,-13.62 56.12,-14.12 55.62,-14.5 55.25,-14.5 55.12,-14.62 49.38,-14.62 49.25,-14.5 48.88,-14.5 48.38,-14.12 48.12,-13.62 48.12,-13 48.38,-12.5 48.88,-12.12 49.12,-12.12 49.25,-12 50.12,-12 50.25,-11.88 49.38,-10.88 49.38,-10.75 48.62,-10 48.62,-9.88 47.75,-9 45.5,-11.88 45.88,-12.12 46.38,-12.25 46.88,-13 46.88,-13.62 46.62,-14.12 46.12,-14.5 45.75,-14.5 45.62,-14.62 39.88,-14.62 39.75,-14.5 39.38,-14.5ZM28.38,-14.62 26,-13.75 25.25,-13.62 24.88,-13.38 22.62,-11.12 22,-9.12 21.88,-9 21.88,-8.75 21.75,-8.62 21.75,-8.38 21.62,-8.25 21.62,-7.88 21.5,-7.75 21.5,-5.38 21.88,-4.62 21.88,-4.38 22.38,-3.12 22.5,-2.38 22.75,-2 24.75,0 25.38,0.38 25.75,0.38 25.88,0.5 27.62,1 28,1.25 30.88,1.25 31.25,1 31.5,1 33.12,0.38 33.5,0.38 34.12,0 36.25,-2.12 36.38,-2.38 36.38,-3.25 36.25,-3.5 35.5,-4.12 34.88,-4.12 34.38,-3.88 32.5,-2 32.25,-2 30.62,-1.38 30.25,-1.38 30.12,-1.25 28.88,-1.25 27.5,-1.88 25.75,-3.62 25,-6.12 25.25,-6.38 33.88,-6.38 34,-6.25 34.38,-6.25 34.5,-6.38 34.88,-6.38 35,-6.25 35.62,-6.38 36,-6.62 36.38,-7.12 36.38,-7.5 36.5,-7.62 36.38,-7.88 36.38,-9.25 36.5,-9.5 36.38,-9.62 36.38,-10 35.38,-12 33.88,-13.5 31.88,-14.5 31.5,-14.5 31.38,-14.62ZM25.62,-9.38 25.88,-9.88 27.12,-11.12 28.75,-12 31.12,-12 32.12,-11.5 32.38,-11.25 32.88,-10.25 32.88,-9 32.75,-8.88 25.75,-8.88 25.62,-9ZM11.25,-21.25 10.62,-21 10.38,-20.75 10.12,-20.25 10.12,-19.62 10.38,-19.12 10.88,-18.75 11.25,-18.75 11.38,-18.62 12.88,-18.62 13,-18.5 13,-13.62 12.88,-13.5 11,-14.5 10.62,-14.5 10.5,-14.62 8.38,-14.62 8.25,-14.5 7.88,-14.5 7.5,-14.25 5.38,-13.62 4.75,-13.25 2.75,-11.25 2.5,-10.75 2.5,-10.5 1.62,-8.12 1.62,-7.75 1.5,-7.62 1.62,-7.38 1.62,-6 1.5,-5.88 1.62,-5.62 1.62,-5.12 1.88,-4.75 1.88,-4.5 2.5,-2.88 2.5,-2.5 2.75,-2.12 5,0.12 5.5,0.38 7.62,1 8,1.25 10.88,1.25 12.75,0.25 12.88,0.25 13.12,0.62 13.88,1.25 18.5,1.25 18.88,1 19.25,0.5 19.25,0.12 19.38,0 19.25,-0.12 19.12,-0.75 18.38,-1.25 16.62,-1.25 16.5,-1.38 16.5,-20.25 16.25,-20.75 15.5,-21.25ZM8.75,-12 10.25,-12 11.5,-11.38 13,-9.88 13,-3.38 11.62,-2 10.12,-1.25 8.88,-1.25 7.38,-2 5.88,-3.5 5.25,-5.5 5.12,-5.62 5.12,-7.62 5.25,-7.75 5.88,-9.75 7.5,-11.38Z"/>
<path transform="translate(618.27,666.7)" fill="#000" fill-rule="evenodd" d="M39.38,-14.5 38.88,-14.12 38.62,-13.62 38.62,-13 38.88,-12.5 39.12,-12.25 39.75,-12 41.38,-12 41.5,-11.88 41.5,-1.38 41.38,-1.25 39.5,-1.25 39.25,-1.12 38.62,-0.38 38.62,0.38 38.75,0.62 39.5,1.25 47,1.25 47.38,1 47.75,0.5 47.75,0.12 47.88,0 47.75,-0.12 47.62,-0.75 46.88,-1.25 45.12,-1.25 45,-1.38 45,-7.62 45.12,-7.75 45.75,-9.75 47.38,-11.38 48.62,-12 49,-12 49.12,-11.88 49.12,-11 49.38,-10.5 49.75,-10.25 50.38,-9.5 51.25,-9.12 52,-9.38 53.38,-10.75 53.5,-11 53.5,-12.75 53.38,-13 52,-14.38 51.38,-14.62 48.38,-14.62 48.25,-14.5 47.88,-14.5 46.12,-13.62 45.12,-12.75 45,-12.88 45,-13.62 44.88,-13.88 44.25,-14.5 44,-14.5 43.88,-14.62 39.88,-14.62 39.75,-14.5ZM28.38,-14.62 26,-13.75 25.25,-13.62 24.88,-13.38 22.62,-11.12 22,-9.12 21.88,-9 21.88,-8.75 21.75,-8.62 21.75,-8.38 21.62,-8.25 21.62,-7.88 21.5,-7.75 21.5,-5.38 21.88,-4.62 21.88,-4.38 22.38,-3.12 22.5,-2.38 22.75,-2 24.75,0 25.38,0.38 25.75,0.38 25.88,0.5 27.62,1 28,1.25 30.88,1.25 31.25,1 31.5,1 33.12,0.38 33.5,0.38 34.12,0 36.25,-2.12 36.38,-2.38 36.38,-3.25 36.25,-3.5 35.5,-4.12 34.88,-4.12 34.38,-3.88 32.5,-2 32.25,-2 30.62,-1.38 30.25,-1.38 30.12,-1.25 28.88,-1.25 27.5,-1.88 25.75,-3.62 25,-6.12 25.25,-6.38 33.88,-6.38 34,-6.25 34.38,-6.25 34.5,-6.38 34.88,-6.38 35,-6.25 35.62,-6.38 36,-6.62 36.38,-7.12 36.38,-7.5 36.5,-7.62 36.38,-7.88 36.38,-9.25 36.5,-9.5 36.38,-9.62 36.38,-10 35.38,-12 33.88,-13.5 31.88,-14.5 31.5,-14.5 31.38,-14.62ZM25.62,-9.38 25.88,-9.88 27.12,-11.12 28.75,-12 31.12,-12 32.12,-11.5 32.38,-11.25 32.88,-10.25 32.88,-9 32.75,-8.88 25.75,-8.88 25.62,-9ZM1.38,-14.5 0.88,-14.12 0.62,-13.62 0.62,-13 0.88,-12.5 1.12,-12.25 1.75,-12 3.38,-12 3.5,-11.88 3.5,5.25 3.38,5.38 1.62,5.38 1.12,5.62 0.75,6 0.75,6.25 0.62,6.38 0.62,7 1.25,7.75 1.88,8 2.12,7.88 4.5,7.88 4.62,8 4.88,8 5,7.88 5.38,7.88 5.5,8 5.88,8 6,7.88 8.25,7.88 8.38,8 9.25,7.75 9.75,7.12 9.75,6.75 9.88,6.62 9.75,6.5 9.75,6.12 8.88,5.38 7.12,5.38 7,5.25 7,0.38 7.12,0.25 7.25,0.38 7.5,0.38 9.12,1.25 11.88,1.25 12.62,0.88 14.75,0.25 15.12,0 17.25,-2.12 17.88,-4.12 18,-4.25 18,-4.5 18.12,-4.62 18.12,-4.88 18.38,-5.25 18.38,-8 18,-8.75 18,-9 17.5,-10.25 17.5,-10.62 17.12,-11.38 17,-11.38 14.88,-13.5 12.88,-14.12 12.75,-14.25 12.5,-14.25 12.38,-14.38 12.12,-14.38 12,-14.5 11.75,-14.5 11.62,-14.62 9.5,-14.62 9.38,-14.5 8.88,-14.5 8.62,-14.25 7.12,-13.5 6.25,-14.5 6,-14.5 5.88,-14.62 1.88,-14.62 1.75,-14.5ZM9.75,-12 11.25,-12 12.62,-11.25 14,-9.88 14.88,-7.5 14.88,-5.88 14.75,-5.75 14.75,-5.38 14.62,-5.25 14.12,-3.62 12.38,-1.88 11,-1.25 9.88,-1.25 8.5,-1.88 7,-3.38 7,-10 8.12,-11.12Z"/>
<path transform="translate(708.3,666.7)" fill="#000" fill-rule="evenodd" d="M2.12,-14.38 1.75,-14 1.62,-13.38 1.5,-13.25 1.62,-13 1.62,-9.88 1.5,-9.75 1.5,-9.5 1.75,-8.88 2.5,-8.25 3.25,-8.25 4,-8.88 4.12,-9.5 4.25,-9.62 4.25,-10 4.38,-10.12 4.38,-10.5 4.5,-10.62 4.5,-11 4.62,-11.12 4.62,-11.5 4.88,-12 10.38,-12 10.5,-11.75 7.75,-8.38 6.88,-7.12 6.38,-6.62 6,-6 5,-4.88 4.62,-4.25 3.62,-3.12 3.25,-2.5 1.75,-0.75 1.62,-0.12 1.5,0 1.62,0.12 1.75,0.75 2.38,1.25 14.62,1.25 14.88,1.12 15.5,0.38 15.5,-4.25 15.38,-4.5 14.75,-5 14.38,-5 14.25,-5.12 14.12,-5 13.75,-5 13.12,-4.5 12.88,-3.88 12.88,-3.38 12.75,-3.25 12.5,-1.88 12.38,-1.75 12.38,-1.5 12.12,-1.25 6.62,-1.25 6.5,-1.38 15.38,-12.62 15.5,-12.88 15.5,-13.75 15.38,-14 15,-14.38 14.38,-14.62 2.75,-14.62Z"/>
<path transform="translate(459.8,703.4)" fill="#000" fill-rule="evenodd" d="M26.25,-14.62 25.88,-14.38 25.62,-14.38 25.5,-14.25 25.25,-14.25 25.12,-14.12 23.12,-13.5 21,-11.38 20.88,-11.38 20.5,-10.62 20.5,-10.25 20.38,-10.12 20,-8.75 19.62,-8 19.62,-5.25 19.88,-4.88 19.88,-4.62 20,-4.5 20,-4.25 20.12,-4.12 20.75,-2.12 22.88,0 23.5,0.38 23.88,0.38 24,0.5 25.38,0.88 26.12,1.25 29,1.25 29.38,1 31.88,0.25 32.25,0 34.25,-2 34.5,-2.38 34.62,-3.12 34.75,-3.25 35.12,-4.62 35.5,-5.38 35.5,-7.75 35.38,-7.88 35.38,-8.25 35.25,-8.38 35.25,-8.62 35.12,-8.75 35.12,-9 35,-9.12 34.38,-11.12 32.12,-13.38 31.75,-13.62 31,-13.75 28.62,-14.62ZM26.75,-12 28.25,-12 29.88,-11.12 31.12,-9.88 31.88,-7.88 31.88,-7.5 32,-7.38 32,-5.88 31.88,-5.75 31.25,-3.62 29.5,-1.88 28.12,-1.25 27,-1.25 25.62,-1.88 23.88,-3.62 23.38,-5.25 23.25,-5.38 23.25,-5.75 23.12,-5.88 23.12,-7.5 24,-9.88 25.38,-11.25ZM8.38,-14.62 8.25,-14.5 7.88,-14.5 7.5,-14.25 7.25,-14.25 7.12,-14.12 5.12,-13.5 4.75,-13.25 2.75,-11.25 2.5,-10.75 1.75,-8.25 1.62,-8.12 1.62,-7.75 1.5,-7.62 1.62,-7.38 1.62,-6 1.5,-5.75 1.62,-5.62 1.62,-5.12 1.88,-4.75 1.88,-4.5 2.5,-2.88 2.5,-2.5 2.75,-2.12 5,0.12 5.5,0.38 7.62,1 8,1.25 10.88,1.25 11,1.12 11.25,1.12 14,0.12 16.25,-2.12 16.5,-2.62 16.38,-3.38 16,-3.88 15.5,-4.12 14.88,-4.12 14.25,-3.75 12.5,-2 12.25,-2 10.25,-1.25 8.88,-1.25 7.38,-2 5.88,-3.5 5.25,-5.5 5.12,-5.62 5.12,-7.62 5.25,-7.75 5.88,-9.75 7.5,-11.38 8.75,-12 11.25,-12 12.25,-11.5 12.88,-11 12.88,-10.88 12.25,-10.25 12,-9.75 12,-9.25 12.25,-8.75 13.5,-7.5 14,-7.25 14.5,-7.25 15,-7.5 16.25,-8.75 16.5,-9.25 16.5,-10.62 16.25,-11.25 14.25,-13.25 13.75,-13.62 13.5,-13.62 12.25,-14.25 12,-14.5 11.62,-14.5 11.5,-14.62Z"/>
<path transform="translate(507.3,703.4)" fill="#000" fill-rule="evenodd" d="M11.25,-21.25 10.62,-21 10.38,-20.75 10.12,-20.25 10.12,-19.62 10.38,-19.12 10.88,-18.75 11.25,-18.75 11.38,-18.62 12.88,-18.62 13,-18.5 13,-13.62 12.88,-13.5 11,-14.5 10.62,-14.5 10.5,-14.62 8.38,-14.62 8.25,-14.5 7.88,-14.5 7.5,-14.25 5.38,-13.62 4.75,-13.25 2.75,-11.25 2.5,-10.75 2.5,-10.5 1.62,-8.12 1.62,-7.75 1.5,-7.62 1.62,-7.38 1.62,-6 1.5,-5.88 1.62,-5.62 1.62,-5.12 1.88,-4.75 1.88,-4.5 2.5,-2.88 2.5,-2.5 2.75,-2.12 5,0.12 5.5,0.38 7.62,1 8,1.25 10.88,1.25 12.75,0.25 12.88,0.25 13.12,0.62 13.88,1.25 18.5,1.25 18.88,1 19.25,0.5 19.25,0.12 19.38,0 19.25,-0.12 19.12,-0.75 18.38,-1.25 16.62,-1.25 16.5,-1.38 16.5,-20.25 16.25,-20.75 15.5,-21.25ZM8.75,-12 10.25,-12 11.5,-11.38 13,-9.88 13,-3.38 11.62,-2 10.12,-1.25 8.88,-1.25 7.38,-2 5.88,-3.5 5.25,-5.5 5.12,-5.62 5.12,-7.62 5.25,-7.75 5.88,-9.75 7.5,-11.38Z"/>
<path d="M502.4,683.75V703.1" fill="none" stroke="#000" stroke-width="3.4" stroke-linecap="round"/>
<path d="M500.1,703.4H504.7 M500.1,683.45H501.9" fill="none" stroke="#000" stroke-width="2.5" stroke-linecap="round"/>
<path transform="translate(545.08,703.4)" fill="#000" fill-rule="evenodd" d="M9.75,-21.25 7.25,-21.25 4.88,-20 4.62,-19.75 3.5,-17.5 3.5,-14.75 3.38,-14.62 1.88,-14.62 1.75,-14.5 1.38,-14.5 0.88,-14.12 0.62,-13.62 0.62,-13 1.12,-12.25 1.75,-12 3.38,-12 3.5,-11.88 3.5,-1.38 3.38,-1.25 1.5,-1.25 0.75,-0.62 0.62,-0.38 0.62,0.38 0.75,0.62 1.5,1.25 9,1.25 9.38,1 9.75,0.5 9.75,0.12 9.88,0 9.75,-0.12 9.75,-0.5 9.38,-1 8.88,-1.25 7.12,-1.25 7,-1.38 7,-11.88 7.12,-12 9.75,-12 10.25,-12.25 10.75,-12.88 10.75,-13.75 10.62,-14 10,-14.5 9.62,-14.5 9.5,-14.62 7.12,-14.62 7,-14.75 7,-16.88 7.38,-17.5 7.5,-17.25 8.88,-16 9.12,-15.88 9.88,-15.88 10.5,-16.25 11.5,-17.25 11.75,-17.88 11.75,-19.25 11.5,-19.75 10.25,-21Z"/>
<path transform="translate(567.83,703.4)" fill="#000" fill-rule="evenodd" d="M18.62,-13.38 18.88,-12.62 19.38,-12.12 19.62,-12.12 19.75,-12 21.75,-12 21.88,-11.88 22,-11.25 22.25,-10.75 22.25,-10.38 22.5,-9.88 22.5,-9.5 22.75,-9 22.75,-8.62 23,-8.12 23,-7.75 23.25,-7.25 23.25,-6.88 23.5,-6.38 23.5,-6 23.75,-5.5 23.75,-5.12 24,-4.62 24,-4.25 24.25,-3.75 24.25,-3.38 24.5,-2.88 24.5,-2.5 24.75,-2 24.75,-1.62 25,-1.12 25,-0.75 25.25,-0.25 25.25,0.12 25.5,0.75 26.12,1.25 27,1.25 27.25,1.12 27.88,0.38 28.12,-0.88 28.38,-1.38 28.38,-1.75 28.62,-2.25 28.62,-2.62 28.88,-3.12 28.88,-3.5 29.12,-4 29.12,-4.38 29.38,-4.88 29.38,-5.25 29.62,-5.75 29.62,-6.12 29.75,-6.25 29.88,-7 30.12,-7.5 30.12,-7.88 30.38,-8.38 30.75,-7.62 30.75,-7.25 31,-6.75 31,-6.38 31.25,-5.88 31.25,-5.5 31.5,-5 31.5,-4.62 31.75,-4.12 31.75,-3.75 32,-3.25 32,-2.88 32.12,-2.75 32.25,-2 32.5,-1.5 32.5,-1.12 32.75,-0.62 32.88,0.25 33.12,0.75 33.75,1.25 34.62,1.25 34.88,1.12 35.5,0.38 35.62,-0.5 35.88,-1 35.88,-1.38 36.12,-1.88 36.12,-2.25 36.38,-2.75 36.38,-3.12 36.62,-3.62 36.62,-4 36.88,-4.5 36.88,-4.88 37.12,-5.38 37.12,-5.75 37.38,-6.25 37.38,-6.62 37.62,-7.12 37.62,-7.5 37.88,-8 37.88,-8.38 38.12,-8.88 38.12,-9.25 38.38,-9.75 38.38,-10.12 38.62,-10.62 38.88,-11.88 39,-12 41,-12 41.12,-12.12 41.38,-12.12 41.88,-12.5 42.12,-13 42.12,-13.62 41.88,-14.12 41.38,-14.5 41,-14.5 40.88,-14.62 35.12,-14.62 35,-14.5 34.62,-14.5 34.12,-14.12 33.88,-13.62 33.88,-13 34.12,-12.5 34.38,-12.25 35,-12 36.12,-12 36.25,-11.88 36.25,-11.62 36,-11.12 36,-10.75 35.75,-10.25 35.75,-9.88 35.5,-9.38 35.5,-9 35.25,-8.5 35.25,-8.12 35,-7.62 35,-7.25 34.62,-6.38 34.12,-7.75 34.12,-8.12 33.75,-9.12 33.62,-10 33.38,-10.5 33.25,-11.38 33,-11.88 32.75,-13.25 32.38,-14.12 31.88,-14.5 31.5,-14.5 31.38,-14.62 31.25,-14.5 30.75,-14.5 30.62,-14.62 29.88,-14.5 29.62,-14.38 29.12,-13.75 29,-12.88 28.75,-12.38 28.75,-12 28.5,-11.5 28.5,-11.12 28.25,-10.62 28.25,-10.25 28,-9.75 28,-9.38 27.75,-8.88 27.75,-8.5 27.5,-8 27.25,-6.75 27,-6.38 26.88,-6.5 26.75,-7.38 26.5,-7.88 26.5,-8.25 26.12,-9.25 26.12,-9.62 25.75,-10.62 25.5,-11.88 25.62,-12 26.75,-12 27.38,-12.25 27.62,-12.5 27.88,-13 27.88,-13.62 27.62,-14.12 27.12,-14.5 26.75,-14.5 26.62,-14.62 19.88,-14.62 19.25,-14.38 18.88,-14ZM8.25,-14.62 7.5,-14.25 7.25,-14.25 7.12,-14.12 5.12,-13.5 4.75,-13.25 2.75,-11.25 2.5,-10.75 1.75,-8.25 1.62,-8.12 1.62,-7.75 1.5,-7.62 1.62,-7.38 1.62,-6 1.5,-5.75 1.62,-5.62 1.62,-5.12 1.88,-4.75 1.88,-4.5 2.5,-2.88 2.5,-2.5 2.75,-2.12 5,0.12 5.5,0.38 7.62,1 8,1.25 11,1.25 11.38,1 11.62,1 14,0.12 16.25,-2.12 16.5,-2.5 16.5,-2.88 16.62,-3 17.12,-4.75 17.38,-5.12 17.38,-5.62 17.5,-5.75 17.38,-6 17.38,-7.38 17.5,-7.62 17.38,-7.75 17.38,-8.12 17.25,-8.25 17.25,-8.5 16.25,-11.25 14.25,-13.25 13.62,-13.62 13.38,-13.62 10.62,-14.62ZM8.75,-12 10.25,-12 11.5,-11.38 13.12,-9.75 13.75,-7.75 13.88,-7.62 13.88,-5.62 13.75,-5.5 13.12,-3.5 11.62,-2 10.12,-1.25 8.88,-1.25 7.38,-2 5.88,-3.5 5.25,-5.5 5.12,-5.62 5.12,-7.62 5.25,-7.75 5.88,-9.75 7.5,-11.38Z"/>
<path d="M562.45,683.75V703.1" fill="none" stroke="#000" stroke-width="3.4" stroke-linecap="round"/>
<path d="M560.15,703.4H564.75 M560.15,683.45H561.95" fill="none" stroke="#000" stroke-width="2.5" stroke-linecap="round"/>
<path d="M697.95,646.9L690.7,666.4H705.5Z M696.9,648.6L703.6,666.4" fill="none" stroke="#000" stroke-width="2.4" stroke-linejoin="round" stroke-linecap="round"/>
<g stroke="#00f" stroke-width="2.6" fill="none">
<path d="M668.95,151.7H694.95 M681.8,151.7V181.7"/>
<path d="M681.8,190L669.1,168.4L681.8,183.7L694.5,168.4Z" fill="#00f" stroke-linejoin="round"/>
</g>
<g stroke="#00f" stroke-width="2.6" fill="none">
<path d="M668.95,241.7H694.95 M681.8,241.7V271.7"/>
<path d="M681.8,280L669.1,258.4L681.8,273.7L694.5,258.4Z" fill="#00f" stroke-linejoin="round"/>
</g>
<path transform="translate(702.38,179.35)" fill="#00f" fill-rule="evenodd" d="M55.5,-8.12 53.25,-7 52.75,-6.5 51.62,-4.12 51.62,-1.75 52,-1 52.25,-0.88 53.75,0.62 53.75,0.75 54.5,1.25 57.25,1.25 59.5,0.12 60,-0.38 60.12,-0.88 61.12,-2.88 61.12,-3.25 61,-3.38 61,-4.5 61.12,-4.62 61.12,-4.88 61,-5 60.88,-5.62 58.62,-7.88 58.12,-8.12ZM57.25,-5.62 58.5,-4.38 58.5,-3.25 58.38,-3.12 58.38,-2.88 58,-2.12 57.75,-1.88 56.5,-1.25 55.5,-1.25 54.25,-2.38 54.25,-3.75 54.75,-4.75 55.12,-5.12 56.25,-5.62ZM60.38,-21.75 60.12,-21.88 59.38,-21.88 58.88,-21.5 57.62,-20.88 57.38,-20.88 57,-20.62 56.75,-20.62 55.12,-20 54.75,-20 54.62,-19.88 52.12,-19.88 52,-20 49.88,-20.62 49.5,-20.88 49.25,-20.88 47.38,-21.88 44.88,-21.88 42.5,-20.75 42,-20.25 40.88,-18 40.88,-15.38 41,-15.25 41,-15 43.25,-12.75 43.62,-12.5 44,-12.5 44.12,-12.38 44.38,-12.38 44.5,-12.5 45.62,-12.5 45.75,-12.38 46.12,-12.38 48.12,-13.38 48.62,-13.5 49.12,-14 50.25,-16.25 50.25,-17.62 50.38,-17.75 50.62,-17.75 51.5,-17.38 55.12,-17.38 55.25,-17.25 49.5,-10.62 49.5,-10.5 48.75,-9.75 48.75,-9.62 48,-8.88 48,-8.75 47.25,-8 47.25,-7.88 46.5,-7.12 46.5,-7 45.75,-6.25 45.75,-6.12 45,-5.38 45,-5.25 44.25,-4.5 44.25,-4.38 43.5,-3.62 43.5,-3.5 42.75,-2.75 42.75,-2.62 42,-1.88 42,-1.75 41.12,-0.88 40.88,-0.38 40.88,0.38 41.5,1.12 41.75,1.25 42.5,1.25 43.25,0.75 43.88,-0.12 44.62,-0.88 44.62,-1 45.38,-1.75 45.38,-1.88 46.12,-2.62 46.12,-2.75 46.88,-3.5 46.88,-3.62 47.62,-4.38 47.62,-4.5 48.38,-5.25 48.38,-5.38 49.12,-6.12 49.12,-6.25 49.88,-7 49.88,-7.12 50.62,-7.88 50.62,-8 51.38,-8.75 51.38,-8.88 52.12,-9.62 52.12,-9.75 60.38,-19.25 60.38,-19.38 60.88,-19.88 61.12,-20.5 61,-21.12ZM46.62,-19.25 47.62,-18.25 47.75,-18 47.75,-17 47.12,-15.75 46.88,-15.5 45.75,-15 44.62,-15 43.38,-16.25 43.38,-17.25 43.5,-17.38 43.5,-17.62 43.88,-18.38 44.25,-18.75 45.25,-19.25ZM24.12,-21.88 23.38,-21.25 23.12,-20.62 23.12,-20 23,-19.88 23,-19.38 22.88,-19.25 22.88,-18.75 22.75,-18.62 22.75,-18.12 22.62,-18 22.62,-17.5 22.5,-17.38 22.5,-16.88 22.38,-16.75 22.38,-16.25 22.25,-16.12 22.25,-15.62 22.12,-15.5 22.12,-15 22,-14.88 22,-14.38 21.88,-14.25 21.88,-13.75 21.75,-13.62 21.5,-11.88 21.25,-11.25 21.25,-10.38 21.38,-10.12 22.12,-9.5 22.88,-9.5 23.5,-9.88 25.25,-11.62 25.5,-11.75 25.75,-11.75 27.38,-12.38 27.75,-12.38 27.88,-12.5 29.88,-12.5 31.5,-11.75 33.25,-10 33.25,-9.75 34,-7.75 34,-6 33.88,-5.88 33.25,-3.75 31.38,-1.88 30,-1.25 27.62,-1.25 27.5,-1.38 27.25,-1.38 27.12,-1.5 25.12,-2.12 24.62,-2.62 24.5,-3.12 25.62,-4.25 25.75,-4.5 25.75,-5.25 25.5,-5.75 24.5,-6.75 23.88,-7.12 23.12,-7.12 22.88,-7 21.38,-5.5 21.38,-5.25 21.25,-5.12 21.25,-3.62 21.38,-3.5 21.38,-3.25 21.62,-3 22.5,-1.12 23.5,-0.12 24,0.25 24.25,0.25 27,1.25 30.88,1.25 31.25,1 31.5,1 33.12,0.38 33.5,0.38 34,0.12 36.12,-2 36.25,-2 36.62,-2.75 36.62,-3.12 36.75,-3.25 37.25,-5 37.5,-5.38 37.5,-8.38 37.25,-8.75 37.25,-9 36.62,-10.62 36.62,-11 36.38,-11.5 34.12,-13.75 33.75,-14 33.5,-14 30.75,-15 27,-15 26.62,-14.75 26.38,-14.75 24.62,-14.12 24.5,-14.38 24.62,-14.5 24.62,-15 24.75,-15.12 24.75,-15.62 24.88,-15.75 24.88,-16.25 25,-16.38 25.25,-18.12 25.5,-18.38 29.12,-18.38 29.38,-18.25 29.5,-18.38 30,-18.38 30.12,-18.5 30.62,-18.5 30.75,-18.62 31.25,-18.62 31.38,-18.75 31.88,-18.75 32,-18.88 32.5,-18.88 32.62,-19 33.12,-19 33.25,-19.12 33.75,-19.12 33.88,-19.25 34.5,-19.25 34.62,-19.38 34.88,-19.38 35.5,-20 35.5,-20.25 35.62,-20.38 35.5,-21.12 35.38,-21.38 34.62,-21.88ZM11.12,-21.88 8.38,-21.88 8,-21.62 7.75,-21.62 7.62,-21.5 7.38,-21.5 7.25,-21.38 5.25,-20.75 2.88,-18.38 2.62,-18 2.62,-17.62 2.5,-17.5 2,-15.75 1.75,-15.38 1.75,-14.88 1.62,-14.75 1.62,-13.62 1.75,-13.5 1.75,-13.12 1.88,-13 2.62,-10.5 2.88,-10 5,-7.88 5.38,-7.62 7.38,-7 7.5,-6.88 7.75,-6.88 7.88,-6.75 8.12,-6.75 8.25,-6.62 8.62,-6.62 8.75,-6.5 9.25,-6.5 9.38,-6.62 9.5,-6.5 9.88,-6.5 10,-6.62 10.38,-6.62 10.5,-6.75 13,-7.5 13.62,-7.88 14.12,-8.38 14.25,-8.25 13.38,-5 12.62,-3.62 11,-2 9.5,-1.25 7.25,-1.25 6.12,-1.75 5.88,-2 5.88,-2.12 7,-3.25 7.12,-3.5 7.12,-4.38 7,-4.62 5.38,-6.12 4.5,-6.12 4.25,-6 3,-4.88 2.62,-4.12 2.62,-2.75 2.75,-2.62 2.75,-2.25 3,-2 3.75,-0.38 4.38,0.25 4.88,0.38 6.5,1.25 10.25,1.25 10.38,1.12 13.25,0.25 13.75,-0.12 15.62,-2 16.62,-4 16.88,-4.25 17,-5.12 17.12,-5.25 17.12,-5.62 17.25,-5.75 17.25,-6.12 17.38,-6.25 17.38,-6.62 17.5,-6.75 17.5,-7.12 17.62,-7.25 17.62,-7.62 17.75,-7.75 17.75,-8.12 18,-8.75 18,-9.12 17.88,-9.25 17.88,-14.25 18,-14.38 18,-14.75 17.88,-14.88 17.88,-15.25 17.75,-15.38 17.75,-15.62 16.75,-18.38 14.5,-20.62 14.12,-20.88 13.38,-21 13.25,-21.12 11.88,-21.5ZM10.62,-19.25 11.88,-18.62 13.62,-16.88 14.25,-14.88 14.38,-14.75 14.38,-13.75 14.25,-13.62 13.62,-11.5 12,-9.88 11.75,-9.88 9.75,-9.12 9,-9.12 7.75,-9.75 6,-11.5 5.38,-13.5 5.25,-13.62 5.25,-14.75 5.38,-14.88 6,-16.88 7.75,-18.62 9,-19.25Z"/>
<path transform="translate(702.38,269.35)" fill="#00f" fill-rule="evenodd" d="M55.5,-8.12 53.25,-7 52.75,-6.5 51.62,-4.12 51.62,-1.75 52,-1 52.25,-0.88 53.75,0.62 53.75,0.75 54.5,1.25 57.25,1.25 59.5,0.12 60,-0.38 60.12,-0.88 61.12,-2.88 61.12,-3.25 61,-3.38 61,-4.5 61.12,-4.62 61.12,-4.88 61,-5 60.88,-5.62 58.62,-7.88 58.12,-8.12ZM57.25,-5.62 58.5,-4.38 58.5,-3.25 58.38,-3.12 58.38,-2.88 58,-2.12 57.75,-1.88 56.5,-1.25 55.5,-1.25 54.25,-2.38 54.25,-3.75 54.75,-4.75 55.12,-5.12 56.25,-5.62ZM60.38,-21.75 60.12,-21.88 59.38,-21.88 58.88,-21.5 57.62,-20.88 57.38,-20.88 57,-20.62 56.75,-20.62 55.12,-20 54.75,-20 54.62,-19.88 52.12,-19.88 52,-20 49.88,-20.62 49.5,-20.88 49.25,-20.88 47.38,-21.88 44.88,-21.88 42.5,-20.75 42,-20.25 40.88,-18 40.88,-15.38 41,-15.25 41,-15 43.25,-12.75 43.62,-12.5 44,-12.5 44.12,-12.38 44.38,-12.38 44.5,-12.5 45.62,-12.5 45.75,-12.38 46.12,-12.38 48.12,-13.38 48.62,-13.5 49.12,-14 50.25,-16.25 50.25,-17.62 50.38,-17.75 50.62,-17.75 51.5,-17.38 55.12,-17.38 55.25,-17.25 49.5,-10.62 49.5,-10.5 48.75,-9.75 48.75,-9.62 48,-8.88 48,-8.75 47.25,-8 47.25,-7.88 46.5,-7.12 46.5,-7 45.75,-6.25 45.75,-6.12 45,-5.38 45,-5.25 44.25,-4.5 44.25,-4.38 43.5,-3.62 43.5,-3.5 42.75,-2.75 42.75,-2.62 42,-1.88 42,-1.75 41.12,-0.88 40.88,-0.38 40.88,0.38 41.5,1.12 41.75,1.25 42.5,1.25 43.25,0.75 43.88,-0.12 44.62,-0.88 44.62,-1 45.38,-1.75 45.38,-1.88 46.12,-2.62 46.12,-2.75 46.88,-3.5 46.88,-3.62 47.62,-4.38 47.62,-4.5 48.38,-5.25 48.38,-5.38 49.12,-6.12 49.12,-6.25 49.88,-7 49.88,-7.12 50.62,-7.88 50.62,-8 51.38,-8.75 51.38,-8.88 52.12,-9.62 52.12,-9.75 60.38,-19.25 60.38,-19.38 60.88,-19.88 61.12,-20.5 61,-21.12ZM46.62,-19.25 47.62,-18.25 47.75,-18 47.75,-17 47.12,-15.75 46.88,-15.5 45.75,-15 44.62,-15 43.38,-16.25 43.38,-17.25 43.5,-17.38 43.5,-17.62 43.88,-18.38 44.25,-18.75 45.25,-19.25ZM28,-21.88 27.62,-21.62 25.12,-20.88 24.38,-20.38 24.25,-20 22.5,-17.5 22.12,-16.5 22.12,-16 22,-15.88 22,-15.38 21.88,-15.25 21.88,-14.75 21.75,-14.62 21.75,-14.12 21.62,-14 21.62,-13.5 21.5,-13.38 21.5,-12.88 21.38,-12.75 21.38,-12.25 21.25,-12.12 21.25,-8.38 21.5,-7.75 21.5,-7.25 21.62,-7.12 21.62,-6.62 21.75,-6.5 21.75,-6 21.88,-5.88 21.88,-5.38 22,-5.25 22,-4.75 22.12,-4.62 22.12,-4.12 22.25,-4 22.38,-3.25 24.38,-0.25 25,0.25 27.5,1 27.88,1.25 30.88,1.25 31.25,1 31.5,1 33.12,0.38 33.5,0.38 34,0.12 34.5,-0.38 36,-2.75 36.38,-3.12 36.38,-3.38 36.62,-3.88 36.62,-4.38 36.75,-4.5 36.75,-5 36.88,-5.12 36.88,-5.62 37,-5.75 37,-6.25 37.12,-6.38 37.38,-8.12 37.5,-8.25 37.5,-12.38 37.38,-12.5 37.38,-13 37.25,-13.12 37.25,-13.62 37.12,-13.75 37.12,-14.25 37,-14.38 37,-14.88 36.88,-15 36.88,-15.5 36.75,-15.62 36.75,-16.12 36.62,-16.25 36.5,-17.12 34.38,-20.38 33.75,-20.88 33.38,-20.88 33.25,-21 31.5,-21.5 30.75,-21.88ZM28.5,-19.25 30.25,-19.25 31.5,-18.62 32.38,-17.75 33.12,-16.12 33.25,-15.12 33.38,-15 33.38,-14.5 33.5,-14.38 33.5,-13.88 33.62,-13.75 33.62,-13.25 33.75,-13.12 33.75,-12.62 33.88,-12.5 33.88,-12 34,-11.88 34,-8.62 33.88,-8.5 33.88,-8 33.75,-7.88 33.75,-7.38 33.62,-7.25 33.62,-6.75 33.5,-6.62 33.5,-6.12 33.38,-6 33.38,-5.5 33.25,-5.38 33.25,-4.88 33.12,-4.75 33,-4.12 32.38,-2.88 31.38,-1.88 30,-1.25 28.75,-1.25 27.25,-2 26.5,-2.75 25.62,-4.62 25.5,-5.62 25.38,-5.75 25.38,-6.25 25.25,-6.38 25.25,-6.88 25.12,-7 25.12,-7.5 25,-7.62 25,-8.12 24.88,-8.25 24.88,-9 24.75,-9.12 24.75,-11.5 24.88,-11.62 24.88,-12.25 25,-12.38 25,-12.88 25.12,-13 25.12,-13.5 25.25,-13.62 25.25,-14.12 25.38,-14.25 25.38,-14.75 25.5,-14.88 25.5,-15.38 25.62,-15.5 25.75,-16.38 26.62,-18 27.12,-18.5ZM2.75,-21.88 2.62,-21.75 2.38,-21.75 1.75,-21.12 1.75,-20.75 1.62,-20.62 1.62,-14.62 1.88,-14 2.5,-13.5 2.75,-13.5 2.88,-13.38 3.38,-13.5 4.12,-14.12 4.12,-14.5 4.25,-14.62 4.25,-16.5 4.75,-17.5 5,-17.75 6.38,-18.38 7.38,-18.38 7.5,-18.25 7.88,-18.25 8.25,-18 8.5,-18 8.88,-17.75 9.12,-17.75 9.5,-17.5 9.75,-17.5 10.12,-17.25 10.38,-17.25 10.75,-17 11.62,-16.75 12.25,-16.38 14.75,-16.38 14.88,-16.25 14.75,-16.12 14.62,-15.5 9.75,-10.62 8.88,-8.75 8.62,-8.5 8.62,-8.25 7.62,-5.5 7.62,-5.12 7.5,-5 7.5,0.12 7.62,0.25 7.62,0.5 7.75,0.75 8.38,1.25 10.25,1.25 10.88,0.75 11,0.12 11.12,0 11.12,-5 11.25,-5.12 11.75,-6.88 12,-7.25 12,-7.5 13,-9.38 13.5,-9.88 13.5,-10 14,-10.5 14,-10.62 14.5,-11.12 16,-13.12 16.75,-13.88 17,-14.38 17,-14.75 17.12,-14.88 17.12,-15.12 17.88,-17.12 17.88,-17.5 18,-17.62 18,-18 17.88,-18.12 17.88,-20 18,-20.12 17.88,-21.12 17.25,-21.75 17,-21.88 16.38,-21.88 15.88,-21.62 15.5,-21.25 15.38,-20.75 14.88,-19.75 14.12,-18.88 13.25,-18.88 13.12,-19 12.88,-19 12.62,-19.25 12.25,-19.38 12,-19.62 11.62,-19.75 11.38,-20 11,-20.12 8.88,-21.5 8,-21.88 5.62,-21.88 5.12,-21.62 4.25,-20.75 4.12,-20.88 4.12,-21.12 3.5,-21.75Z"/>
<path transform="translate(206.65,566) rotate(-90) scale(0.97,1)" fill="#f0f" fill-rule="evenodd" d="M48.62,-15.25 46.75,-14.25 46.5,-14.25 45,-12.88 44.75,-12.38 44.75,-9.62 45,-9.12 46.5,-7.75 46.75,-7.75 48.25,-7 48.5,-6.75 49.12,-6.62 49.5,-6.38 49.75,-6.38 50.12,-6.12 50.38,-6.12 50.75,-5.88 51,-5.88 51.38,-5.62 51.62,-5.62 52,-5.38 52.88,-5.12 55,-4.12 55.62,-3.62 55.75,-3.38 55.75,-2.62 55.62,-2.38 55,-1.88 53.62,-1.25 50.38,-1.25 49,-1.88 48.25,-2.5 47.88,-3 47.25,-4.25 47.25,-4.5 46.62,-5.12 46.38,-5.25 45.62,-5.25 45.38,-5.12 44.75,-4.38 44.75,0.38 44.88,0.62 45.62,1.25 46.38,1.25 46.62,1.12 47.25,0.5 47.25,0.25 47.38,0.12 49.62,1.25 54.38,1.25 56.25,0.25 56.5,0.25 58,-1.12 58.25,-1.62 58.25,-5.38 58,-5.88 56.5,-7.25 56.25,-7.25 54.75,-8 54.5,-8.25 53.88,-8.38 53.5,-8.62 53.25,-8.62 52.88,-8.88 52.62,-8.88 52.25,-9.12 52,-9.12 51.62,-9.38 51.38,-9.38 51,-9.62 50.12,-9.88 49.5,-10.25 49.25,-10.25 47.62,-11.12 47.38,-11.38 47.38,-11.62 48,-12.12 49.38,-12.75 52.62,-12.75 54,-12.12 54.75,-11.5 55.12,-11 55.75,-9.75 55.75,-9.5 56.38,-8.88 56.62,-8.75 57.38,-8.75 57.62,-8.88 58.25,-9.62 58.25,-14.38 58.12,-14.62 57.38,-15.25 56.62,-15.25 56.38,-15.12 55.75,-14.5 55.75,-14.25 55.62,-14.12 53.38,-15.25ZM21.88,-14.62 21.75,-14.38 21.75,-13.62 22.38,-12.88 22.62,-12.75 24.62,-12.75 24.75,-12.62 24.75,-2.62 25.75,-0.75 25.75,-0.5 26.38,0.12 28.38,0.75 28.5,0.88 28.75,0.88 28.88,1 29.12,1 29.5,1.25 32.5,1.25 32.88,1 33.12,1 35.62,0.12 35.88,0.62 36.62,1.25 41.38,1.25 42.12,0.62 42.25,0.38 42.25,-0.38 41.62,-1.12 41.38,-1.25 39.38,-1.25 39.25,-1.38 39.25,-14.38 38.62,-15.12 38.38,-15.25 33.62,-15.25 33.38,-15.12 32.75,-14.38 32.75,-13.62 33.38,-12.88 33.62,-12.75 35.62,-12.75 35.75,-12.62 35.75,-3.62 35.62,-3.38 34.12,-2 33.88,-2 32.25,-1.38 31.88,-1.38 31.75,-1.25 30.38,-1.25 29.25,-1.75 28.75,-2.25 28.25,-3.38 28.25,-14.38 28.12,-14.62 27.38,-15.25 22.62,-15.25ZM64.62,-22.25 64.38,-22.12 63.75,-21.38 63.75,-15.38 63.62,-15.25 61.62,-15.25 61.38,-15.12 60.75,-14.38 60.75,-13.62 60.88,-13.38 61.62,-12.75 63.62,-12.75 63.75,-12.62 63.75,-3.5 64,-3.12 64,-2.88 64.12,-2.75 64.12,-2.5 64.25,-2.38 64.88,-0.38 65.5,0.25 65.75,0.25 67,0.88 67.5,1.25 70.38,1.25 72.25,0.25 72.5,0.25 73.25,-0.5 73.25,-0.75 73.88,-2 74.12,-2.25 74.12,-2.5 74.25,-2.62 74.25,-3.38 73.62,-4.12 73.38,-4.25 72.62,-4.25 71.75,-3.5 71.75,-3.25 71.25,-2.25 70.75,-1.75 69.62,-1.25 68.62,-1.25 68.38,-1.38 68,-1.88 68,-2.12 67.38,-3.75 67.38,-4.12 67.25,-4.25 67.25,-12.62 67.38,-12.75 70.38,-12.75 71.12,-13.38 71.25,-13.62 71.25,-14.38 71.12,-14.62 70.38,-15.25 67.38,-15.25 67.25,-15.38 67.25,-21.38 67.12,-21.62 66.38,-22.25 65.62,-22.25 65.5,-22.12 65.38,-22.25ZM11.62,-22.25 11.38,-22.12 10.75,-21.38 10.75,-20.62 10.88,-20.38 11.62,-19.75 13.62,-19.75 13.75,-19.62 13.75,-14.25 13.62,-14.12 13.5,-14.25 13.25,-14.25 11.38,-15.25 8.5,-15.25 8.12,-15 5.62,-14.25 5,-13.88 4.88,-13.62 3,-11.88 2.75,-11.38 2,-8.88 1.75,-8.5 1.75,-5.5 2,-5.12 2,-4.88 3,-2.12 3.38,-1.88 4.88,-0.38 5,-0.12 5.62,0.25 8.12,1 8.5,1.25 11.38,1.25 13.62,0.12 13.88,0.62 14.62,1.25 19.38,1.25 19.62,1.12 20.25,0.38 20.25,-0.38 20.12,-0.62 19.38,-1.25 17.38,-1.25 17.25,-1.38 17.25,-21.38 17.12,-21.62 16.38,-22.25ZM9.38,-12.75 10.62,-12.75 12,-12.12 12.38,-11.88 13.62,-10.62 13.75,-10.38 13.75,-3.62 13.62,-3.38 12.38,-2.12 10.62,-1.25 9.38,-1.25 7.62,-2.12 6,-3.88 6,-4.12 5.38,-5.75 5.38,-6.12 5.25,-6.25 5.25,-7.75 5.38,-7.88 5.38,-8.25 5.5,-8.38 6,-10.12 7.62,-11.88Z"/>
<path d="M196.8,586.2V571.2M189.3,578.7H204.3" stroke="#f0f" stroke-width="2.4" stroke-linecap="round" fill="none"/>
<path d="M154.5,741.4L171.9,719.78M177.05,713.38L194.45,691.76M199.6,685.36L217,663.74M222.15,657.34L239.55,635.73M244.7,629.33L262.1,607.71M267.25,601.31L284.65,579.69M289.8,573.29L307.2,551.67M312.35,545.27L329.75,523.65M334.9,517.25L352.3,495.63M357.45,489.23L374.85,467.62M380,461.22L397.4,439.6M402.55,433.2L419.95,411.58M425.1,405.18L442.5,383.56M447.65,377.16L465.05,355.54M470.2,349.14L487.6,327.52M492.75,321.12L510.15,299.5M515.3,293.11L532.7,271.49M537.85,265.09L555.25,243.47M560.4,237.07L577.8,215.45M582.95,209.05L600.35,187.43M605.5,181.03L622.9,159.41M628.05,153.01L645.45,131.39M650.6,125L684.7,82.63M689.9,76.17L707.7,54.05M712.6,47.96L715.3,44.61" stroke="#0f0" stroke-width="2.6" fill="none" stroke-linecap="butt"/>
<path d="M143.6,372.11L148.77,366.61L153.95,361.16L159.13,355.75L164.3,350.39L169.47,345.07L174.65,339.8L179.82,334.57L185,329.38L190.18,324.23L195.35,319.12L200.52,314.05L205.7,309.02L210.88,304.03L216.05,299.08L221.22,294.16L226.4,289.29L231.57,284.45L236.75,279.64L241.93,274.87L247.1,270.14L252.27,265.44L257.45,260.77L262.62,256.14L267.8,251.54L272.98,246.97L278.15,242.44L283.32,237.94L288.5,233.47L293.68,229.03L298.85,224.61L304.02,220.23L309.2,215.88L314.38,211.56L319.55,207.27L324.73,203.01L329.9,198.77L335.07,194.56L340.25,190.38L345.42,186.23L350.6,182.1L355.77,178L360.95,173.92L366.12,169.87L371.3,165.85L376.48,161.85L381.65,157.87L386.82,153.92L392,150L397.17,146.1L402.35,142.22L407.52,138.36L412.7,134.53L417.88,130.72L423.05,126.93L428.23,123.17L433.4,119.43L438.57,115.71L443.75,112.01L448.92,108.33L454.1,104.67L459.28,101.04L464.45,97.42L469.62,93.82L474.8,90.25L479.98,86.69L485.15,83.16L490.32,79.64L495.5,76.14L500.67,72.66L505.85,69.2L511.03,65.76L516.2,62.34L521.38,58.94L526.55,55.55L531.73,52.18L536.9,48.83L542.07,45.5L542.69,45.1" stroke="#f00" stroke-width="2.6" fill="none" stroke-linejoin="round"/>
<path d="M143.6,635.77L148.77,630.07L153.95,624.42L159.13,618.82L164.3,613.26L169.47,607.74L174.65,602.27L179.82,596.85L185,591.46L190.18,586.12L195.35,580.82L200.52,575.57L205.7,570.35L210.88,565.17L216.05,560.03L221.22,554.93L226.4,549.87L231.57,544.85L236.75,539.86L241.93,534.91L247.1,529.99L252.27,525.11L257.45,520.27L262.62,515.46L267.8,510.68L272.98,505.94L278.15,501.23L283.32,496.55L288.5,491.9L293.68,487.29L298.85,482.71L304.02,478.16L309.2,473.64L314.38,469.14L319.55,464.68L324.73,460.25L329.9,455.85L335.07,451.47L340.25,447.12L345.42,442.8L350.6,438.51L355.77,434.25L360.95,430.01L366.12,425.8L371.3,421.61L376.48,417.45L381.65,413.32L386.82,409.21L392,405.12L397.17,401.06L402.35,397.03L407.52,393.01L412.7,389.03L417.88,385.06L423.05,381.12L428.23,377.2L433.4,373.3L438.57,369.43L443.75,365.58L448.92,361.75L454.1,357.94L459.28,354.15L464.45,350.39L469.62,346.64L474.8,342.92L479.98,339.21L485.15,335.53L490.32,331.87L495.5,328.22L500.67,324.6L505.85,320.99L511.03,317.41L516.2,313.84L521.38,310.29L526.55,306.76L531.73,303.25L536.9,299.76L542.07,296.28L547.25,292.83L552.42,289.39L557.6,285.97L562.78,282.56L567.95,279.17L573.12,275.8L578.3,272.45L583.48,269.11L588.65,265.79L593.82,262.49L599,259.2L604.17,255.92L609.35,252.67L614.53,249.43L619.7,246.2L624.87,242.99L630.05,239.8L635.23,236.62L640.4,233.45L645.57,230.3L650.75,227.17L655.92,224.05L661.1,220.94L666.28,217.85L671.45,214.77L676.62,211.71L681.8,208.65L686.98,205.62L692.15,202.6L697.32,199.59L702.5,196.59L707.67,193.61L712.85,190.64L718.03,187.68L723.2,184.74L728.37,181.81L733.55,178.89L738.73,175.99L743.9,173.09L749.07,170.21L754.25,167.35L759.42,164.49L764.6,161.65L769.78,158.81L774.95,155.99L780.12,153.19L785.3,150.39" stroke="#f00" stroke-width="2.6" fill="none" stroke-linejoin="round"/>
<path d="M143.6,733.16L148.77,727.43L153.95,721.74L159.13,716.1L164.3,710.51L169.47,704.97L174.65,699.46L179.82,694.01L185,688.59L190.18,683.22L195.35,677.89L200.52,672.6L205.7,667.35L210.88,662.14L216.05,656.97L221.22,651.84L226.4,646.75L231.57,641.7L236.75,636.68L241.93,631.7L247.1,626.75L252.27,621.84L257.45,616.97L262.62,612.13L267.8,607.32L272.98,602.55L278.15,597.81L283.32,593.11L288.5,588.43L293.68,583.79L298.85,579.18L304.02,574.6L309.2,570.05L314.38,565.53L319.55,561.04L324.73,556.58L329.9,552.14L335.07,547.74L340.25,543.37L345.42,539.02L350.6,534.7L355.77,530.41L360.95,526.14L366.12,521.9L371.3,517.69L376.48,513.5L381.65,509.34L386.82,505.2L392,501.09L397.17,497L402.35,492.94L407.52,488.9L412.7,484.89L417.88,480.9L423.05,476.93L428.23,472.98L433.4,469.06L438.57,465.16L443.75,461.28L448.92,457.43L454.1,453.59L459.28,449.78L464.45,445.99L469.62,442.22L474.8,438.47L479.98,434.74L485.15,431.03L490.32,427.34L495.5,423.67L500.67,420.02L505.85,416.39L511.03,412.78L516.2,409.19L521.38,405.62L526.55,402.06L531.73,398.53L536.9,395.01L542.07,391.51L547.25,388.03L552.42,384.57L557.6,381.12L562.78,377.69L567.95,374.28L573.12,370.88L578.3,367.51L583.48,364.14L588.65,360.8L593.82,357.47L599,354.16L604.17,350.86L609.35,347.58L614.53,344.32L619.7,341.07L624.87,337.84L630.05,334.62L635.23,331.41L640.4,328.23L645.57,325.05L650.75,321.89L655.92,318.75L661.1,315.62L666.28,312.51L671.45,309.4L676.62,306.32L681.8,303.25L686.98,300.19L692.15,297.14L697.32,294.11L702.5,291.09L707.67,288.09L712.85,285.09L718.03,282.12L723.2,279.15L728.37,276.2L733.55,273.26L738.73,270.33L743.9,267.42L749.07,264.51L754.25,261.62L759.42,258.75L764.6,255.88L769.78,253.03L774.95,250.19L780.12,247.36L785.3,244.54" stroke="#f00" stroke-width="2.6" fill="none" stroke-linejoin="round"/>
<g transform="translate(353.7,213.9) rotate(-34)" fill="none" stroke="#f00" stroke-linecap="round" stroke-linejoin="round">
<path d="M3.2,-12L0.4,-1.6M13,-9.3L9.3,5.3" stroke-width="3.3"/>
<path d="M-3.2,-9.3C-2.8,-11.5 -1.2,-13.3 1,-13.3C2,-13.3 2.8,-12.8 3.2,-12M2.6,-8.5C4.5,-11.5 7.5,-13.2 10.3,-13C12.6,-12.8 13.4,-11.2 13,-9.3" stroke-width="2.5"/>
<path transform="translate(17.3,9.2)" fill="#f00" stroke="none" fill-rule="evenodd" d="M5,-13.88 4.25,-13.5 3.12,-13.25 2.62,-12.75 2.5,-12.75 2.12,-12 1.25,-10.88 1.12,-10.12 1,-10 1,-9.5 0.88,-9.38 0.88,-8.88 0.75,-8.75 0.75,-8.25 0.62,-8.12 0.62,-7.62 0.5,-7.5 0.5,-5 0.75,-4.38 0.75,-3.88 0.88,-3.75 0.88,-3.25 1,-3.12 1,-2.62 1.12,-2.5 1.25,-1.75 2.75,0.38 3.12,0.62 4.5,1 4.88,1.25 7.12,1.25 7.5,1 8.88,0.62 9.25,0.38 10.75,-1.75 10.88,-2.5 11,-2.62 11,-3.12 11.12,-3.25 11.12,-3.75 11.25,-3.88 11.25,-4.38 11.5,-5 11.5,-7.5 11.38,-7.62 11.38,-8.12 11.25,-8.25 11.25,-8.75 11.12,-8.88 11.12,-9.38 11,-9.5 11,-10 10.88,-10.12 10.75,-10.88 10.38,-11.25 9.5,-12.75 9.38,-12.75 8.88,-13.25 8.12,-13.38 7,-13.88ZM5.88,-11.38 6.5,-11.25 7,-11 7.38,-10.62 7.88,-9.5 8,-8.5 8.12,-8.38 8.12,-7.88 8.25,-7.75 8.25,-7 8.38,-6.88 8.38,-5.75 8.25,-5.62 8.25,-4.88 8.12,-4.75 7.88,-3 7.38,-2 7,-1.62 6.25,-1.25 5.75,-1.25 5,-1.62 4.62,-2 4.12,-3 4.12,-3.5 4,-3.62 4,-4.12 3.88,-4.25 3.88,-4.75 3.75,-4.88 3.75,-5.62 3.62,-5.75 3.75,-7.75 3.88,-7.88 3.88,-8.38 4,-8.5 4,-9 4.12,-9.12 4.25,-9.88 4.62,-10.62 5,-11Z"/>
<path transform="translate(30.26,0) scale(0.88,1)" fill="#f00" stroke="none" fill-rule="evenodd" d="M2.75,-6.38 2.75,-5.62 2.88,-5.38 3.62,-4.75 22.38,-4.75 22.62,-4.88 23.25,-5.62 23.25,-6.38 23.12,-6.62 22.38,-7.25 3.62,-7.25 3.38,-7.12ZM2.75,-12.38 2.75,-11.62 2.88,-11.38 3.62,-10.75 22.38,-10.75 22.62,-10.88 23.25,-11.62 23.25,-12.38 23.12,-12.62 22.38,-13.25 3.62,-13.25 3.38,-13.12Z"/>
<path transform="translate(54,0)" fill="#f00" stroke="none" fill-rule="evenodd" d="M11.38,-22.25 10.62,-22.25 10,-21.88 9.88,-21.62 9.38,-21.12 9.25,-21.12 7.38,-19.12 5.75,-18.25 5.5,-18.25 4.75,-17.38 4.75,-16.62 4.88,-16.38 5.62,-15.75 6.38,-15.75 8.25,-16.75 8.5,-16.75 8.62,-16.88 8.75,-16.75 8.75,-1.38 8.62,-1.25 5.62,-1.25 5.38,-1.12 4.75,-0.38 4.75,0.38 4.88,0.62 5.62,1.25 15.38,1.25 15.62,1.12 16.25,0.38 16.25,-0.38 16.12,-0.62 15.38,-1.25 12.38,-1.25 12.25,-1.38 12.25,-21.38 12.12,-21.62Z"/>
</g>
<g transform="translate(561.1,315.7) rotate(-30)" fill="none" stroke="#f00" stroke-linecap="round" stroke-linejoin="round">
<path d="M3.2,-12L0.4,-1.6M13,-9.3L9.3,5.3" stroke-width="3.3"/>
<path d="M-3.2,-9.3C-2.8,-11.5 -1.2,-13.3 1,-13.3C2,-13.3 2.8,-12.8 3.2,-12M2.6,-8.5C4.5,-11.5 7.5,-13.2 10.3,-13C12.6,-12.8 13.4,-11.2 13,-9.3" stroke-width="2.5"/>
<path transform="translate(17.3,9.2)" fill="#f00" stroke="none" fill-rule="evenodd" d="M5,-13.88 4.25,-13.5 3.12,-13.25 2.62,-12.75 2.5,-12.75 2.12,-12 1.25,-10.88 1.12,-10.12 1,-10 1,-9.5 0.88,-9.38 0.88,-8.88 0.75,-8.75 0.75,-8.25 0.62,-8.12 0.62,-7.62 0.5,-7.5 0.5,-5 0.75,-4.38 0.75,-3.88 0.88,-3.75 0.88,-3.25 1,-3.12 1,-2.62 1.12,-2.5 1.25,-1.75 2.75,0.38 3.12,0.62 4.5,1 4.88,1.25 7.12,1.25 7.5,1 8.88,0.62 9.25,0.38 10.75,-1.75 10.88,-2.5 11,-2.62 11,-3.12 11.12,-3.25 11.12,-3.75 11.25,-3.88 11.25,-4.38 11.5,-5 11.5,-7.5 11.38,-7.62 11.38,-8.12 11.25,-8.25 11.25,-8.75 11.12,-8.88 11.12,-9.38 11,-9.5 11,-10 10.88,-10.12 10.75,-10.88 10.38,-11.25 9.5,-12.75 9.38,-12.75 8.88,-13.25 8.12,-13.38 7,-13.88ZM5.88,-11.38 6.5,-11.25 7,-11 7.38,-10.62 7.88,-9.5 8,-8.5 8.12,-8.38 8.12,-7.88 8.25,-7.75 8.25,-7 8.38,-6.88 8.38,-5.75 8.25,-5.62 8.25,-4.88 8.12,-4.75 7.88,-3 7.38,-2 7,-1.62 6.25,-1.25 5.75,-1.25 5,-1.62 4.62,-2 4.12,-3 4.12,-3.5 4,-3.62 4,-4.12 3.88,-4.25 3.88,-4.75 3.75,-4.88 3.75,-5.62 3.62,-5.75 3.75,-7.75 3.88,-7.88 3.88,-8.38 4,-8.5 4,-9 4.12,-9.12 4.25,-9.88 4.62,-10.62 5,-11Z"/>
<path transform="translate(30.26,0) scale(0.88,1)" fill="#f00" stroke="none" fill-rule="evenodd" d="M2.75,-6.38 2.75,-5.62 2.88,-5.38 3.62,-4.75 22.38,-4.75 22.62,-4.88 23.25,-5.62 23.25,-6.38 23.12,-6.62 22.38,-7.25 3.62,-7.25 3.38,-7.12ZM2.75,-12.38 2.75,-11.62 2.88,-11.38 3.62,-10.75 22.38,-10.75 22.62,-10.88 23.25,-11.62 23.25,-12.38 23.12,-12.62 22.38,-13.25 3.62,-13.25 3.38,-13.12Z"/>
<path transform="translate(53,0)" fill="#f00" stroke="none" fill-rule="evenodd" d="M13.38,-22.25 12.62,-22.25 11.88,-21.75 11.75,-21.38 10.62,-20 10.38,-19.5 9.25,-18.12 9,-17.62 7.88,-16.25 7.62,-15.75 6.5,-14.38 6.25,-13.88 5.12,-12.5 4.88,-12 3.75,-10.62 3.5,-10.12 2.38,-8.75 2.12,-8.25 1,-6.88 0.75,-6.38 0.75,-5.62 0.88,-5.38 1.62,-4.75 10.62,-4.75 10.75,-4.62 10.75,-1.38 10.62,-1.25 8.62,-1.25 8.38,-1.12 7.75,-0.38 7.75,0.38 7.88,0.62 8.62,1.25 16.38,1.25 16.62,1.12 17.25,0.38 17.25,-0.38 17.12,-0.62 16.38,-1.25 14.38,-1.25 14.25,-1.38 14.25,-4.62 14.38,-4.75 18.38,-4.75 18.62,-4.88 19.25,-5.62 19.25,-6.38 19.12,-6.62 18.38,-7.25 14.38,-7.25 14.25,-7.38 14.25,-21.38 14.12,-21.62ZM10.62,-15.5 10.75,-15.38 10.75,-7.38 10.62,-7.25 4.75,-7.25 4.62,-7.5 5.75,-8.88 6,-9.38 7.12,-10.75 7.38,-11.25 8.5,-12.62 8.75,-13.12 9.88,-14.5 10.12,-15Z"/>
</g>
<g transform="translate(560.2,412.4) rotate(-29)" fill="none" stroke="#f00" stroke-linecap="round" stroke-linejoin="round">
<path d="M3.2,-12L0.4,-1.6M13,-9.3L9.3,5.3" stroke-width="3.3"/>
<path d="M-3.2,-9.3C-2.8,-11.5 -1.2,-13.3 1,-13.3C2,-13.3 2.8,-12.8 3.2,-12M2.6,-8.5C4.5,-11.5 7.5,-13.2 10.3,-13C12.6,-12.8 13.4,-11.2 13,-9.3" stroke-width="2.5"/>
<path transform="translate(17.3,9.2)" fill="#f00" stroke="none" fill-rule="evenodd" d="M5,-13.88 4.25,-13.5 3.12,-13.25 2.62,-12.75 2.5,-12.75 2.12,-12 1.25,-10.88 1.12,-10.12 1,-10 1,-9.5 0.88,-9.38 0.88,-8.88 0.75,-8.75 0.75,-8.25 0.62,-8.12 0.62,-7.62 0.5,-7.5 0.5,-5 0.75,-4.38 0.75,-3.88 0.88,-3.75 0.88,-3.25 1,-3.12 1,-2.62 1.12,-2.5 1.25,-1.75 2.75,0.38 3.12,0.62 4.5,1 4.88,1.25 7.12,1.25 7.5,1 8.88,0.62 9.25,0.38 10.75,-1.75 10.88,-2.5 11,-2.62 11,-3.12 11.12,-3.25 11.12,-3.75 11.25,-3.88 11.25,-4.38 11.5,-5 11.5,-7.5 11.38,-7.62 11.38,-8.12 11.25,-8.25 11.25,-8.75 11.12,-8.88 11.12,-9.38 11,-9.5 11,-10 10.88,-10.12 10.75,-10.88 10.38,-11.25 9.5,-12.75 9.38,-12.75 8.88,-13.25 8.12,-13.38 7,-13.88ZM5.88,-11.38 6.5,-11.25 7,-11 7.38,-10.62 7.88,-9.5 8,-8.5 8.12,-8.38 8.12,-7.88 8.25,-7.75 8.25,-7 8.38,-6.88 8.38,-5.75 8.25,-5.62 8.25,-4.88 8.12,-4.75 7.88,-3 7.38,-2 7,-1.62 6.25,-1.25 5.75,-1.25 5,-1.62 4.62,-2 4.12,-3 4.12,-3.5 4,-3.62 4,-4.12 3.88,-4.25 3.88,-4.75 3.75,-4.88 3.75,-5.62 3.62,-5.75 3.75,-7.75 3.88,-7.88 3.88,-8.38 4,-8.5 4,-9 4.12,-9.12 4.25,-9.88 4.62,-10.62 5,-11Z"/>
<path transform="translate(30.26,0) scale(0.88,1)" fill="#f00" stroke="none" fill-rule="evenodd" d="M2.75,-6.38 2.75,-5.62 2.88,-5.38 3.62,-4.75 22.38,-4.75 22.62,-4.88 23.25,-5.62 23.25,-6.38 23.12,-6.62 22.38,-7.25 3.62,-7.25 3.38,-7.12ZM2.75,-12.38 2.75,-11.62 2.88,-11.38 3.62,-10.75 22.38,-10.75 22.62,-10.88 23.25,-11.62 23.25,-12.38 23.12,-12.62 22.38,-13.25 3.62,-13.25 3.38,-13.12Z"/>
<path transform="translate(54,0)" fill="#f00" stroke="none" fill-rule="evenodd" d="M24.62,-3.25 24,-2.88 23.88,-2.62 23,-1.88 22.75,-1.38 22.75,-0.62 23,-0.12 23.38,0.12 24,0.88 24.62,1.25 25.38,1.25 26,0.88 26.12,0.62 27,-0.12 27.25,-0.62 27.25,-1.38 27,-1.88 26.62,-2.12 26,-2.88 25.38,-3.25ZM37.5,-22.25 37.12,-22 36.88,-22 36.75,-21.88 36.5,-21.88 36.38,-21.75 34.38,-21.12 33,-19.88 31.75,-17.38 31.75,-15.62 32,-15.12 32.38,-14.88 33,-14.12 33.62,-13.75 34.38,-13.75 35,-14.12 35.12,-14.38 36,-15.12 36.25,-15.62 36.25,-16.38 36,-16.88 35.62,-17.12 34.88,-18 35.12,-18.38 35.88,-19 36.12,-19 37.75,-19.62 38.12,-19.62 38.25,-19.75 41.62,-19.75 42.75,-19.25 43.25,-18.75 43.75,-17.62 43.75,-15.38 43.25,-14.25 42.75,-13.75 41.62,-13.25 38.62,-13.25 37.88,-12.62 37.75,-12.38 37.75,-11.62 37.88,-11.38 38.62,-10.75 41.62,-10.75 43,-10.12 43.75,-9.5 44,-9.12 44,-8.88 44.62,-7.25 44.62,-6.88 44.75,-6.75 44.75,-4.38 43.88,-2.62 43.38,-2.12 42,-1.38 41.75,-1.38 41.62,-1.25 38.25,-1.25 38.12,-1.38 37.75,-1.38 37.62,-1.5 35.88,-2 35.5,-2.25 34.88,-3 35.12,-3.38 36,-4.12 36.25,-4.62 36.25,-5.38 36,-5.88 35.62,-6.12 35,-6.88 34.38,-7.25 33.62,-7.25 33,-6.88 32.88,-6.62 32,-5.88 31.75,-5.38 31.75,-3.62 33,-1.12 33.38,-0.88 34,-0.12 34.62,0.25 37.12,1 37.5,1.25 42.5,1.25 42.88,1 45.38,0.25 46,-0.12 46.12,-0.38 46.62,-0.88 46.75,-0.88 47.25,-1.5 47.25,-1.75 48.25,-3.62 48.25,-7.38 48.12,-7.5 48.12,-7.75 47.88,-8 47,-9.88 45.25,-11.5 45.25,-11.62 46.25,-12.5 46.25,-12.75 47.25,-14.62 47.25,-18.38 46.25,-20.25 46.25,-20.5 45.38,-21.25 42.88,-22 42.5,-22.25ZM9.5,-22.25 9.12,-22 6.62,-21.25 6,-20.88 5.88,-20.62 4,-18.88 3.12,-17 2.88,-16.75 2.88,-16.5 2.62,-16 2.62,-15.62 2.5,-15.5 2.5,-15.12 2.38,-15 2.38,-14.62 2.25,-14.5 2.25,-14.12 2.12,-14 2.12,-13.62 2,-13.5 2,-13.12 1.88,-13 1.88,-12.62 1.75,-12.5 1.75,-5.5 2,-5.12 2,-4.88 3,-2.12 3.38,-1.88 4.88,-0.38 5,-0.12 5.62,0.25 8.12,1 8.5,1.25 11.5,1.25 11.88,1 12.12,1 12.25,0.88 12.5,0.88 12.62,0.75 14.62,0.12 15,-0.12 15.12,-0.38 17,-2.12 17.25,-2.62 18,-5.12 18.25,-5.5 18.25,-7.5 18,-7.88 18,-8.12 17,-10.88 16.62,-11.12 15.12,-12.62 15,-12.88 14.38,-13.25 11.88,-14 11.5,-14.25 9.5,-14.25 9.12,-14 6.62,-13.25 6,-12.88 5.62,-12.38 5.5,-12.5 5.5,-12.88 5.62,-13 5.62,-13.38 5.75,-13.5 6.12,-15.38 6.88,-17 8.62,-18.88 10,-19.62 10.25,-19.62 10.38,-19.75 12.62,-19.75 13.75,-19.25 14,-19 13.88,-18.62 13,-17.88 12.75,-17.38 12.75,-16.62 13,-16.12 13.38,-15.88 14,-15.12 14.62,-14.75 15.38,-14.75 16,-15.12 16.12,-15.38 17,-16.12 17.25,-16.62 17.25,-18.38 17.12,-18.5 17.12,-18.75 16.88,-19 16.25,-20.25 16.25,-20.5 15.5,-21.25 15.25,-21.25 13.38,-22.25ZM10.62,-11.75 12.38,-10.88 13.75,-9.5 14,-9.12 14,-8.88 14.62,-7.25 14.75,-6.25 14.62,-6.12 14.62,-5.75 14.5,-5.62 14,-3.88 12.38,-2.12 10.62,-1.25 9.38,-1.25 7.62,-2.12 6.25,-3.5 6,-3.88 6,-4.12 5.38,-5.75 5.25,-6.75 5.38,-6.88 5.38,-7.25 5.5,-7.38 6,-9.12 7.5,-10.75 7.88,-11 8.12,-11 9.75,-11.62Z"/>
</g>
<path d="M236.8,514.7V573.9 M220.5,514.7H253.1 M220.5,573.9H253.1" stroke="#f0f" stroke-width="2.6" fill="none"/>
<circle cx="236.8" cy="541.8" r="16.1" fill="#f0f"/>
<path d="M236.8,612.6V671.9 M220.5,612.6H253.1 M220.5,671.9H253.1" stroke="#000" stroke-width="2.6" fill="none"/>
<circle cx="236.8" cy="639.7" r="16.1" fill="#000"/>
<path d="M329.8,491.3V620.3 M313.5,491.3H346.1 M313.5,620.3H346.1" stroke="#000" stroke-width="2.6" fill="none"/>
<circle cx="329.8" cy="547.9" r="16.1" fill="#000"/>
<path d="M454.2,297.6V456.5 M437.9,297.6H470.5 M437.9,456.5H470.5" stroke="#000" stroke-width="2.6" fill="none"/>
<circle cx="454.2" cy="369.9" r="16.1" fill="#000"/>
</svg>
</body></html>
